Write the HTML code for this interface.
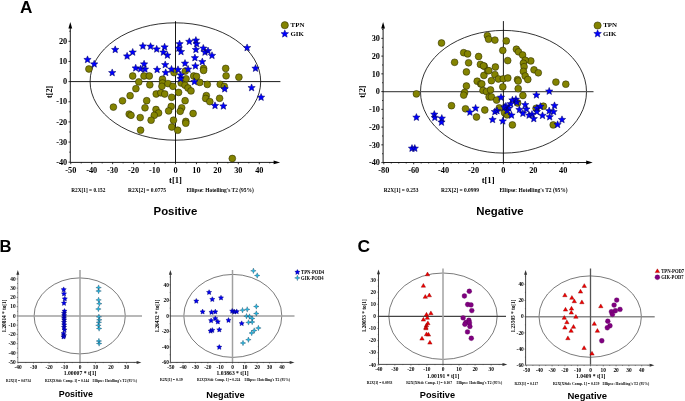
<!DOCTYPE html><html><head><meta charset="utf-8"><style>html,body{margin:0;padding:0;background:#fff;width:685px;height:401px;overflow:hidden}svg{display:block;will-change:transform}</style></head><body>
<svg width="685" height="401" viewBox="0 0 685 401">
<rect width="685" height="401" fill="#fff"/>
<text x="20" y="12.6" font-family='"Liberation Sans", sans-serif' font-size="17.2" font-weight="bold" text-anchor="start" fill="#000" >A</text>
<text x="-0.6" y="251.85" font-family='"Liberation Sans", sans-serif' font-size="16.6" font-weight="bold" text-anchor="start" fill="#000" >B</text>
<text x="357.5" y="251.9" font-family='"Liberation Sans", sans-serif' font-size="17.4" font-weight="bold" text-anchor="start" fill="#000" >C</text>
<ellipse cx="175.4" cy="81.5" rx="85.3" ry="58.7" fill="none" stroke="#000" stroke-width="0.8"/>
<line x1="70.3" y1="81.6" x2="280.4" y2="81.6" stroke="#000" stroke-width="0.9"/>
<line x1="175.5" y1="21.2" x2="175.5" y2="162.4" stroke="#000" stroke-width="0.9"/>
<line x1="70.3" y1="162.4" x2="70.3" y2="25.25" stroke="#000" stroke-width="0.9"/>
<line x1="70.3" y1="162.4" x2="276.85" y2="162.4" stroke="#000" stroke-width="0.9"/>
<path d="M70.3,22 L68.4,28.5 L72.2,28.5Z" fill="#000"/>
<path d="M280.1,162.4 L273.6,160.5 L273.6,164.3Z" fill="#000"/>
<line x1="70.75" y1="162.4" x2="70.75" y2="164.2" stroke="#000" stroke-width="0.8"/>
<text x="70.75" y="172.5" font-family='"Liberation Serif", serif' font-size="8.3" font-weight="bold" text-anchor="middle" fill="#000" >-50</text>
<line x1="91.7" y1="162.4" x2="91.7" y2="164.2" stroke="#000" stroke-width="0.8"/>
<text x="91.7" y="172.5" font-family='"Liberation Serif", serif' font-size="8.3" font-weight="bold" text-anchor="middle" fill="#000" >-40</text>
<line x1="112.65" y1="162.4" x2="112.65" y2="164.2" stroke="#000" stroke-width="0.8"/>
<text x="112.65" y="172.5" font-family='"Liberation Serif", serif' font-size="8.3" font-weight="bold" text-anchor="middle" fill="#000" >-30</text>
<line x1="133.6" y1="162.4" x2="133.6" y2="164.2" stroke="#000" stroke-width="0.8"/>
<text x="133.6" y="172.5" font-family='"Liberation Serif", serif' font-size="8.3" font-weight="bold" text-anchor="middle" fill="#000" >-20</text>
<line x1="154.55" y1="162.4" x2="154.55" y2="164.2" stroke="#000" stroke-width="0.8"/>
<text x="154.55" y="172.5" font-family='"Liberation Serif", serif' font-size="8.3" font-weight="bold" text-anchor="middle" fill="#000" >-10</text>
<line x1="175.5" y1="162.4" x2="175.5" y2="164.2" stroke="#000" stroke-width="0.8"/>
<text x="175.5" y="172.5" font-family='"Liberation Serif", serif' font-size="8.3" font-weight="bold" text-anchor="middle" fill="#000" >0</text>
<line x1="196.45" y1="162.4" x2="196.45" y2="164.2" stroke="#000" stroke-width="0.8"/>
<text x="196.45" y="172.5" font-family='"Liberation Serif", serif' font-size="8.3" font-weight="bold" text-anchor="middle" fill="#000" >10</text>
<line x1="217.4" y1="162.4" x2="217.4" y2="164.2" stroke="#000" stroke-width="0.8"/>
<text x="217.4" y="172.5" font-family='"Liberation Serif", serif' font-size="8.3" font-weight="bold" text-anchor="middle" fill="#000" >20</text>
<line x1="238.35" y1="162.4" x2="238.35" y2="164.2" stroke="#000" stroke-width="0.8"/>
<text x="238.35" y="172.5" font-family='"Liberation Serif", serif' font-size="8.3" font-weight="bold" text-anchor="middle" fill="#000" >30</text>
<line x1="259.3" y1="162.4" x2="259.3" y2="164.2" stroke="#000" stroke-width="0.8"/>
<text x="259.3" y="172.5" font-family='"Liberation Serif", serif' font-size="8.3" font-weight="bold" text-anchor="middle" fill="#000" >40</text>
<line x1="81.22" y1="162.4" x2="81.22" y2="163.4" stroke="#000" stroke-width="0.8"/>
<line x1="102.17" y1="162.4" x2="102.17" y2="163.4" stroke="#000" stroke-width="0.8"/>
<line x1="123.12" y1="162.4" x2="123.12" y2="163.4" stroke="#000" stroke-width="0.8"/>
<line x1="144.07" y1="162.4" x2="144.07" y2="163.4" stroke="#000" stroke-width="0.8"/>
<line x1="165.03" y1="162.4" x2="165.03" y2="163.4" stroke="#000" stroke-width="0.8"/>
<line x1="185.97" y1="162.4" x2="185.97" y2="163.4" stroke="#000" stroke-width="0.8"/>
<line x1="206.93" y1="162.4" x2="206.93" y2="163.4" stroke="#000" stroke-width="0.8"/>
<line x1="227.88" y1="162.4" x2="227.88" y2="163.4" stroke="#000" stroke-width="0.8"/>
<line x1="248.82" y1="162.4" x2="248.82" y2="163.4" stroke="#000" stroke-width="0.8"/>
<line x1="269.77" y1="162.4" x2="269.77" y2="163.4" stroke="#000" stroke-width="0.8"/>
<line x1="68.5" y1="162.2" x2="70.3" y2="162.2" stroke="#000" stroke-width="0.8"/>
<text x="67.2" y="164.94" font-family='"Liberation Serif", serif' font-size="8.3" font-weight="bold" text-anchor="end" fill="#000" >-40</text>
<line x1="68.5" y1="142.05" x2="70.3" y2="142.05" stroke="#000" stroke-width="0.8"/>
<text x="67.2" y="144.79" font-family='"Liberation Serif", serif' font-size="8.3" font-weight="bold" text-anchor="end" fill="#000" >-30</text>
<line x1="68.5" y1="121.9" x2="70.3" y2="121.9" stroke="#000" stroke-width="0.8"/>
<text x="67.2" y="124.64" font-family='"Liberation Serif", serif' font-size="8.3" font-weight="bold" text-anchor="end" fill="#000" >-20</text>
<line x1="68.5" y1="101.75" x2="70.3" y2="101.75" stroke="#000" stroke-width="0.8"/>
<text x="67.2" y="104.49" font-family='"Liberation Serif", serif' font-size="8.3" font-weight="bold" text-anchor="end" fill="#000" >-10</text>
<line x1="68.5" y1="81.6" x2="70.3" y2="81.6" stroke="#000" stroke-width="0.8"/>
<text x="67.2" y="84.34" font-family='"Liberation Serif", serif' font-size="8.3" font-weight="bold" text-anchor="end" fill="#000" >0</text>
<line x1="68.5" y1="61.45" x2="70.3" y2="61.45" stroke="#000" stroke-width="0.8"/>
<text x="67.2" y="64.19" font-family='"Liberation Serif", serif' font-size="8.3" font-weight="bold" text-anchor="end" fill="#000" >10</text>
<line x1="68.5" y1="41.3" x2="70.3" y2="41.3" stroke="#000" stroke-width="0.8"/>
<text x="67.2" y="44.04" font-family='"Liberation Serif", serif' font-size="8.3" font-weight="bold" text-anchor="end" fill="#000" >20</text>
<line x1="69.3" y1="152.12" x2="70.3" y2="152.12" stroke="#000" stroke-width="0.8"/>
<line x1="69.3" y1="131.97" x2="70.3" y2="131.97" stroke="#000" stroke-width="0.8"/>
<line x1="69.3" y1="111.82" x2="70.3" y2="111.82" stroke="#000" stroke-width="0.8"/>
<line x1="69.3" y1="91.67" x2="70.3" y2="91.67" stroke="#000" stroke-width="0.8"/>
<line x1="69.3" y1="71.52" x2="70.3" y2="71.52" stroke="#000" stroke-width="0.8"/>
<line x1="69.3" y1="51.37" x2="70.3" y2="51.37" stroke="#000" stroke-width="0.8"/>
<line x1="69.3" y1="31.22" x2="70.3" y2="31.22" stroke="#000" stroke-width="0.8"/>
<circle cx="88.9" cy="69" r="3.4" fill="#838300" stroke="#2a2a00" stroke-width="0.55"/>
<circle cx="132.7" cy="76" r="3.4" fill="#838300" stroke="#2a2a00" stroke-width="0.55"/>
<circle cx="144" cy="76" r="3.4" fill="#838300" stroke="#2a2a00" stroke-width="0.55"/>
<circle cx="149.3" cy="76" r="3.4" fill="#838300" stroke="#2a2a00" stroke-width="0.55"/>
<circle cx="138.8" cy="81.9" r="3.4" fill="#838300" stroke="#2a2a00" stroke-width="0.55"/>
<circle cx="149.8" cy="84.8" r="3.4" fill="#838300" stroke="#2a2a00" stroke-width="0.55"/>
<circle cx="162.5" cy="79.2" r="3.4" fill="#838300" stroke="#2a2a00" stroke-width="0.55"/>
<circle cx="162.5" cy="83" r="3.4" fill="#838300" stroke="#2a2a00" stroke-width="0.55"/>
<circle cx="161.9" cy="86.3" r="3.4" fill="#838300" stroke="#2a2a00" stroke-width="0.55"/>
<circle cx="168" cy="83.6" r="3.4" fill="#838300" stroke="#2a2a00" stroke-width="0.55"/>
<circle cx="172.9" cy="86.3" r="3.4" fill="#838300" stroke="#2a2a00" stroke-width="0.55"/>
<circle cx="174" cy="72.6" r="3.4" fill="#838300" stroke="#2a2a00" stroke-width="0.55"/>
<circle cx="203.6" cy="68.5" r="3.4" fill="#838300" stroke="#2a2a00" stroke-width="0.55"/>
<circle cx="203.6" cy="70.4" r="3.4" fill="#838300" stroke="#2a2a00" stroke-width="0.55"/>
<circle cx="225.7" cy="68.4" r="3.4" fill="#838300" stroke="#2a2a00" stroke-width="0.55"/>
<circle cx="226.1" cy="75.8" r="3.4" fill="#838300" stroke="#2a2a00" stroke-width="0.55"/>
<circle cx="238.9" cy="77.2" r="3.4" fill="#838300" stroke="#2a2a00" stroke-width="0.55"/>
<circle cx="193.7" cy="76" r="3.4" fill="#838300" stroke="#2a2a00" stroke-width="0.55"/>
<circle cx="196.5" cy="76.5" r="3.4" fill="#838300" stroke="#2a2a00" stroke-width="0.55"/>
<circle cx="185.3" cy="71.1" r="3.4" fill="#838300" stroke="#2a2a00" stroke-width="0.55"/>
<circle cx="186.1" cy="78.8" r="3.4" fill="#838300" stroke="#2a2a00" stroke-width="0.55"/>
<circle cx="199.8" cy="82.4" r="3.4" fill="#838300" stroke="#2a2a00" stroke-width="0.55"/>
<circle cx="207.3" cy="84.4" r="3.4" fill="#838300" stroke="#2a2a00" stroke-width="0.55"/>
<circle cx="220.2" cy="84.3" r="3.4" fill="#838300" stroke="#2a2a00" stroke-width="0.55"/>
<circle cx="224.3" cy="86.4" r="3.4" fill="#838300" stroke="#2a2a00" stroke-width="0.55"/>
<circle cx="181.2" cy="83" r="3.4" fill="#838300" stroke="#2a2a00" stroke-width="0.55"/>
<circle cx="185" cy="85.2" r="3.4" fill="#838300" stroke="#2a2a00" stroke-width="0.55"/>
<circle cx="188" cy="88" r="3.4" fill="#838300" stroke="#2a2a00" stroke-width="0.55"/>
<circle cx="191" cy="90.9" r="3.4" fill="#838300" stroke="#2a2a00" stroke-width="0.55"/>
<circle cx="135.9" cy="88.7" r="3.4" fill="#838300" stroke="#2a2a00" stroke-width="0.55"/>
<circle cx="130.1" cy="95.7" r="3.4" fill="#838300" stroke="#2a2a00" stroke-width="0.55"/>
<circle cx="122.5" cy="100.8" r="3.4" fill="#838300" stroke="#2a2a00" stroke-width="0.55"/>
<circle cx="113.4" cy="107.1" r="3.4" fill="#838300" stroke="#2a2a00" stroke-width="0.55"/>
<circle cx="146.7" cy="100.7" r="3.4" fill="#838300" stroke="#2a2a00" stroke-width="0.55"/>
<circle cx="145" cy="107.8" r="3.4" fill="#838300" stroke="#2a2a00" stroke-width="0.55"/>
<circle cx="156" cy="109.5" r="3.4" fill="#838300" stroke="#2a2a00" stroke-width="0.55"/>
<circle cx="158.6" cy="113" r="3.4" fill="#838300" stroke="#2a2a00" stroke-width="0.55"/>
<circle cx="154.3" cy="115.3" r="3.4" fill="#838300" stroke="#2a2a00" stroke-width="0.55"/>
<circle cx="129.2" cy="114.1" r="3.4" fill="#838300" stroke="#2a2a00" stroke-width="0.55"/>
<circle cx="131" cy="115.3" r="3.4" fill="#838300" stroke="#2a2a00" stroke-width="0.55"/>
<circle cx="140.2" cy="117.6" r="3.4" fill="#838300" stroke="#2a2a00" stroke-width="0.55"/>
<circle cx="151.1" cy="120.2" r="3.4" fill="#838300" stroke="#2a2a00" stroke-width="0.55"/>
<circle cx="140.6" cy="130.2" r="3.4" fill="#838300" stroke="#2a2a00" stroke-width="0.55"/>
<circle cx="156.2" cy="94" r="3.4" fill="#838300" stroke="#2a2a00" stroke-width="0.55"/>
<circle cx="160.8" cy="92.8" r="3.4" fill="#838300" stroke="#2a2a00" stroke-width="0.55"/>
<circle cx="164.7" cy="94" r="3.4" fill="#838300" stroke="#2a2a00" stroke-width="0.55"/>
<circle cx="171.7" cy="97.3" r="3.4" fill="#838300" stroke="#2a2a00" stroke-width="0.55"/>
<circle cx="171.2" cy="106.5" r="3.4" fill="#838300" stroke="#2a2a00" stroke-width="0.55"/>
<circle cx="168.6" cy="110.9" r="3.4" fill="#838300" stroke="#2a2a00" stroke-width="0.55"/>
<circle cx="173.5" cy="120.2" r="3.4" fill="#838300" stroke="#2a2a00" stroke-width="0.55"/>
<circle cx="171.8" cy="127" r="3.4" fill="#838300" stroke="#2a2a00" stroke-width="0.55"/>
<circle cx="177.7" cy="130.2" r="3.4" fill="#838300" stroke="#2a2a00" stroke-width="0.55"/>
<circle cx="178.6" cy="92.4" r="3.4" fill="#838300" stroke="#2a2a00" stroke-width="0.55"/>
<circle cx="185.1" cy="100.7" r="3.4" fill="#838300" stroke="#2a2a00" stroke-width="0.55"/>
<circle cx="206.3" cy="95.6" r="3.4" fill="#838300" stroke="#2a2a00" stroke-width="0.55"/>
<circle cx="205.7" cy="98.5" r="3.4" fill="#838300" stroke="#2a2a00" stroke-width="0.55"/>
<circle cx="209.8" cy="101.6" r="3.4" fill="#838300" stroke="#2a2a00" stroke-width="0.55"/>
<circle cx="219.6" cy="98.3" r="3.4" fill="#838300" stroke="#2a2a00" stroke-width="0.55"/>
<circle cx="181.7" cy="107.8" r="3.4" fill="#838300" stroke="#2a2a00" stroke-width="0.55"/>
<circle cx="180.2" cy="111.3" r="3.4" fill="#838300" stroke="#2a2a00" stroke-width="0.55"/>
<circle cx="193.1" cy="113.5" r="3.4" fill="#838300" stroke="#2a2a00" stroke-width="0.55"/>
<circle cx="185.8" cy="121.4" r="3.4" fill="#838300" stroke="#2a2a00" stroke-width="0.55"/>
<circle cx="185.8" cy="123.2" r="3.4" fill="#838300" stroke="#2a2a00" stroke-width="0.55"/>
<circle cx="232.3" cy="158.5" r="3.4" fill="#838300" stroke="#2a2a00" stroke-width="0.55"/>
<path d="M87.5,55.85 L88.52,58.3 L91.16,58.51 L89.15,60.24 L89.76,62.81 L87.5,61.43 L85.24,62.81 L85.85,60.24 L83.84,58.51 L86.48,58.3Z M94.2,60.25 L95.22,62.7 L97.86,62.91 L95.85,64.64 L96.46,67.21 L94.2,65.83 L91.94,67.21 L92.55,64.64 L90.54,62.91 L93.18,62.7Z M115.2,45.85 L116.22,48.3 L118.86,48.51 L116.85,50.24 L117.46,52.81 L115.2,51.43 L112.94,52.81 L113.55,50.24 L111.54,48.51 L114.18,48.3Z M112.2,68.95 L113.22,71.4 L115.86,71.61 L113.85,73.34 L114.46,75.91 L112.2,74.53 L109.94,75.91 L110.55,73.34 L108.54,71.61 L111.18,71.4Z M127.1,52.35 L128.12,54.8 L130.76,55.01 L128.75,56.74 L129.36,59.31 L127.1,57.93 L124.84,59.31 L125.45,56.74 L123.44,55.01 L126.08,54.8Z M132.7,48.45 L133.72,50.9 L136.36,51.11 L134.35,52.84 L134.96,55.41 L132.7,54.03 L130.44,55.41 L131.05,52.84 L129.04,51.11 L131.68,50.9Z M142.9,42.35 L143.92,44.8 L146.56,45.01 L144.55,46.74 L145.16,49.31 L142.9,47.93 L140.64,49.31 L141.25,46.74 L139.24,45.01 L141.88,44.8Z M150.6,42.65 L151.62,45.1 L154.26,45.31 L152.25,47.04 L152.86,49.61 L150.6,48.23 L148.34,49.61 L148.95,47.04 L146.94,45.31 L149.58,45.1Z M156.7,45.35 L157.72,47.8 L160.36,48.01 L158.35,49.74 L158.96,52.31 L156.7,50.93 L154.44,52.31 L155.05,49.74 L153.04,48.01 L155.68,47.8Z M164.6,43.25 L165.62,45.7 L168.26,45.91 L166.25,47.64 L166.86,50.21 L164.6,48.83 L162.34,50.21 L162.95,47.64 L160.94,45.91 L163.58,45.7Z M163.4,48.45 L164.42,50.9 L167.06,51.11 L165.05,52.84 L165.66,55.41 L163.4,54.03 L161.14,55.41 L161.75,52.84 L159.74,51.11 L162.38,50.9Z M167.4,51.45 L168.42,53.9 L171.06,54.11 L169.05,55.84 L169.66,58.41 L167.4,57.03 L165.14,58.41 L165.75,55.84 L163.74,54.11 L166.38,53.9Z M144.1,60.25 L145.12,62.7 L147.76,62.91 L145.75,64.64 L146.36,67.21 L144.1,65.83 L141.84,67.21 L142.45,64.64 L140.44,62.91 L143.08,62.7Z M135.7,64.25 L136.72,66.7 L139.36,66.91 L137.35,68.64 L137.96,71.21 L135.7,69.83 L133.44,71.21 L134.05,68.64 L132.04,66.91 L134.68,66.7Z M140.6,65.15 L141.62,67.6 L144.26,67.81 L142.25,69.54 L142.86,72.11 L140.6,70.73 L138.34,72.11 L138.95,69.54 L136.94,67.81 L139.58,67.6Z M145,65.45 L146.02,67.9 L148.66,68.11 L146.65,69.84 L147.26,72.41 L145,71.03 L142.74,72.41 L143.35,69.84 L141.34,68.11 L143.98,67.9Z M157.1,65.85 L158.12,68.3 L160.76,68.51 L158.75,70.24 L159.36,72.81 L157.1,71.43 L154.84,72.81 L155.45,70.24 L153.44,68.51 L156.08,68.3Z M165.2,60.95 L166.22,63.4 L168.86,63.61 L166.85,65.34 L167.46,67.91 L165.2,66.53 L162.94,67.91 L163.55,65.34 L161.54,63.61 L164.18,63.4Z M165.7,68.85 L166.72,71.3 L169.36,71.51 L167.35,73.24 L167.96,75.81 L165.7,74.43 L163.44,75.81 L164.05,73.24 L162.04,71.51 L164.68,71.3Z M171.5,65.45 L172.52,67.9 L175.16,68.11 L173.15,69.84 L173.76,72.41 L171.5,71.03 L169.24,72.41 L169.85,69.84 L167.84,68.11 L170.48,67.9Z M179.6,40.05 L180.62,42.5 L183.26,42.71 L181.25,44.44 L181.86,47.01 L179.6,45.63 L177.34,47.01 L177.95,44.44 L175.94,42.71 L178.58,42.5Z M178.8,44.45 L179.82,46.9 L182.46,47.11 L180.45,48.84 L181.06,51.41 L178.8,50.03 L176.54,51.41 L177.15,48.84 L175.14,47.11 L177.78,46.9Z M181,47.95 L182.02,50.4 L184.66,50.61 L182.65,52.34 L183.26,54.91 L181,53.53 L178.74,54.91 L179.35,52.34 L177.34,50.61 L179.98,50.4Z M189.3,37.75 L190.32,40.2 L192.96,40.41 L190.95,42.14 L191.56,44.71 L189.3,43.33 L187.04,44.71 L187.65,42.14 L185.64,40.41 L188.28,40.2Z M195.9,36.55 L196.92,39 L199.56,39.21 L197.55,40.94 L198.16,43.51 L195.9,42.13 L193.64,43.51 L194.25,40.94 L192.24,39.21 L194.88,39Z M196.6,40.05 L197.62,42.5 L200.26,42.71 L198.25,44.44 L198.86,47.01 L196.6,45.63 L194.34,47.01 L194.95,44.44 L192.94,42.71 L195.58,42.5Z M195.9,45.85 L196.92,48.3 L199.56,48.51 L197.55,50.24 L198.16,52.81 L195.9,51.43 L193.64,52.81 L194.25,50.24 L192.24,48.51 L194.88,48.3Z M203.3,44.45 L204.32,46.9 L206.96,47.11 L204.95,48.84 L205.56,51.41 L203.3,50.03 L201.04,51.41 L201.65,48.84 L199.64,47.11 L202.28,46.9Z M205,48.45 L206.02,50.9 L208.66,51.11 L206.65,52.84 L207.26,55.41 L205,54.03 L202.74,55.41 L203.35,52.84 L201.34,51.11 L203.98,50.9Z M208,47.05 L209.02,49.5 L211.66,49.71 L209.65,51.44 L210.26,54.01 L208,52.63 L205.74,54.01 L206.35,51.44 L204.34,49.71 L206.98,49.5Z M212,51.75 L213.02,54.2 L215.66,54.41 L213.65,56.14 L214.26,58.71 L212,57.33 L209.74,58.71 L210.35,56.14 L208.34,54.41 L210.98,54.2Z M194.9,54.05 L195.92,56.5 L198.56,56.71 L196.55,58.44 L197.16,61.01 L194.9,59.63 L192.64,61.01 L193.25,58.44 L191.24,56.71 L193.88,56.5Z M202.3,57.95 L203.32,60.4 L205.96,60.61 L203.95,62.34 L204.56,64.91 L202.3,63.53 L200.04,64.91 L200.65,62.34 L198.64,60.61 L201.28,60.4Z M185,59.55 L186.02,62 L188.66,62.21 L186.65,63.94 L187.26,66.51 L185,65.13 L182.74,66.51 L183.35,63.94 L181.34,62.21 L183.98,62Z M195.4,62.25 L196.42,64.7 L199.06,64.91 L197.05,66.64 L197.66,69.21 L195.4,67.83 L193.14,69.21 L193.75,66.64 L191.74,64.91 L194.38,64.7Z M188.1,65.45 L189.12,67.9 L191.76,68.11 L189.75,69.84 L190.36,72.41 L188.1,71.03 L185.84,72.41 L186.45,69.84 L184.44,68.11 L187.08,67.9Z M178,65.85 L179.02,68.3 L181.66,68.51 L179.65,70.24 L180.26,72.81 L178,71.43 L175.74,72.81 L176.35,70.24 L174.34,68.51 L176.98,68.3Z M180.8,71.25 L181.82,73.7 L184.46,73.91 L182.45,75.64 L183.06,78.21 L180.8,76.83 L178.54,78.21 L179.15,75.64 L177.14,73.91 L179.78,73.7Z M180.6,74.95 L181.62,77.4 L184.26,77.61 L182.25,79.34 L182.86,81.91 L180.6,80.53 L178.34,81.91 L178.95,79.34 L176.94,77.61 L179.58,77.4Z M194.4,77.95 L195.42,80.4 L198.06,80.61 L196.05,82.34 L196.66,84.91 L194.4,83.53 L192.14,84.91 L192.75,82.34 L190.74,80.61 L193.38,80.4Z M247.1,43.95 L248.12,46.4 L250.76,46.61 L248.75,48.34 L249.36,50.91 L247.1,49.53 L244.84,50.91 L245.45,48.34 L243.44,46.61 L246.08,46.4Z M255.5,64.55 L256.52,67 L259.16,67.21 L257.15,68.94 L257.76,71.51 L255.5,70.13 L253.24,71.51 L253.85,68.94 L251.84,67.21 L254.48,67Z M224.7,85.15 L225.72,87.6 L228.36,87.81 L226.35,89.54 L226.96,92.11 L224.7,90.73 L222.44,92.11 L223.05,89.54 L221.04,87.81 L223.68,87.6Z M251.6,83.95 L252.62,86.4 L255.26,86.61 L253.25,88.34 L253.86,90.91 L251.6,89.53 L249.34,90.91 L249.95,88.34 L247.94,86.61 L250.58,86.4Z M261.1,93.55 L262.12,96 L264.76,96.21 L262.75,97.94 L263.36,100.51 L261.1,99.13 L258.84,100.51 L259.45,97.94 L257.44,96.21 L260.08,96Z M215,101.85 L216.02,104.3 L218.66,104.51 L216.65,106.24 L217.26,108.81 L215,107.43 L212.74,108.81 L213.35,106.24 L211.34,104.51 L213.98,104.3Z M223.4,102.35 L224.42,104.8 L227.06,105.01 L225.05,106.74 L225.66,109.31 L223.4,107.93 L221.14,109.31 L221.75,106.74 L219.74,105.01 L222.38,104.8Z" fill="#0000ff" stroke="#000060" stroke-width="0.5" stroke-linejoin="miter"/>
<text x="49.6" y="91.8" font-family='"Liberation Serif", serif' font-size="8.2" font-weight="bold" text-anchor="middle" fill="#000" transform="rotate(-90 49.6 91.8)" dominant-baseline="central">t[2]</text>
<text x="175.5" y="182.7" font-family='"Liberation Serif", serif' font-size="8.6" font-weight="bold" text-anchor="middle" fill="#000" >t[1]</text>
<text x="71.2" y="191.6" font-family='"Liberation Serif", serif' font-size="5.6" font-weight="bold" text-anchor="start" fill="#000" textLength="34.2" lengthAdjust="spacingAndGlyphs">R2X[1] = 0.152</text>
<text x="128" y="191.6" font-family='"Liberation Serif", serif' font-size="5.6" font-weight="bold" text-anchor="start" fill="#000" textLength="37.9" lengthAdjust="spacingAndGlyphs">R2X[2] = 0.0775</text>
<text x="186.4" y="191.6" font-family='"Liberation Serif", serif' font-size="5.6" font-weight="bold" text-anchor="start" fill="#000" textLength="67.4" lengthAdjust="spacingAndGlyphs">Ellipse: Hotelling&#39;s T2 (95%)</text>
<circle cx="284.8" cy="25.2" r="3.6" fill="#838300" stroke="#2a2a00" stroke-width="0.55"/>
<path d="M284.8,29.9 L285.86,32.44 L288.6,32.66 L286.51,34.46 L287.15,37.14 L284.8,35.7 L282.45,37.14 L283.09,34.46 L281,32.66 L283.74,32.44Z" fill="#0000ff" stroke="#00007a" stroke-width="0.45" stroke-linejoin="miter"/>
<text x="290.6" y="27.1" font-family='"Liberation Serif", serif' font-size="6.9" font-weight="bold" text-anchor="start" fill="#000" >TPN</text>
<text x="290.4" y="35.7" font-family='"Liberation Serif", serif' font-size="6.9" font-weight="bold" text-anchor="start" fill="#000" >GIK</text>
<text x="175.4" y="215" font-family='"Liberation Sans", sans-serif' font-size="11.4" font-weight="bold" text-anchor="middle" fill="#000" >Positive</text>
<ellipse cx="503.5" cy="91.75" rx="83" ry="61.35" fill="none" stroke="#000" stroke-width="0.8"/>
<line x1="383.1" y1="91.6" x2="593.5" y2="91.6" stroke="#555" stroke-width="1.3"/>
<line x1="503.4" y1="21.1" x2="503.4" y2="162.5" stroke="#000" stroke-width="0.9"/>
<line x1="383.1" y1="162.5" x2="383.1" y2="25.25" stroke="#000" stroke-width="0.9"/>
<line x1="383.1" y1="162.5" x2="589.45" y2="162.5" stroke="#000" stroke-width="0.9"/>
<path d="M383.1,22 L381.2,28.5 L385,28.5Z" fill="#000"/>
<path d="M592.7,162.5 L586.2,160.6 L586.2,164.4Z" fill="#000"/>
<line x1="383.8" y1="162.5" x2="383.8" y2="164.3" stroke="#000" stroke-width="0.8"/>
<text x="383.8" y="172.6" font-family='"Liberation Serif", serif' font-size="8.3" font-weight="bold" text-anchor="middle" fill="#000" >-80</text>
<line x1="413.7" y1="162.5" x2="413.7" y2="164.3" stroke="#000" stroke-width="0.8"/>
<text x="413.7" y="172.6" font-family='"Liberation Serif", serif' font-size="8.3" font-weight="bold" text-anchor="middle" fill="#000" >-60</text>
<line x1="443.6" y1="162.5" x2="443.6" y2="164.3" stroke="#000" stroke-width="0.8"/>
<text x="443.6" y="172.6" font-family='"Liberation Serif", serif' font-size="8.3" font-weight="bold" text-anchor="middle" fill="#000" >-40</text>
<line x1="473.5" y1="162.5" x2="473.5" y2="164.3" stroke="#000" stroke-width="0.8"/>
<text x="473.5" y="172.6" font-family='"Liberation Serif", serif' font-size="8.3" font-weight="bold" text-anchor="middle" fill="#000" >-20</text>
<line x1="503.4" y1="162.5" x2="503.4" y2="164.3" stroke="#000" stroke-width="0.8"/>
<text x="503.4" y="172.6" font-family='"Liberation Serif", serif' font-size="8.3" font-weight="bold" text-anchor="middle" fill="#000" >0</text>
<line x1="533.3" y1="162.5" x2="533.3" y2="164.3" stroke="#000" stroke-width="0.8"/>
<text x="533.3" y="172.6" font-family='"Liberation Serif", serif' font-size="8.3" font-weight="bold" text-anchor="middle" fill="#000" >20</text>
<line x1="563.2" y1="162.5" x2="563.2" y2="164.3" stroke="#000" stroke-width="0.8"/>
<text x="563.2" y="172.6" font-family='"Liberation Serif", serif' font-size="8.3" font-weight="bold" text-anchor="middle" fill="#000" >40</text>
<line x1="391.27" y1="162.5" x2="391.27" y2="163.5" stroke="#000" stroke-width="0.8"/>
<line x1="398.75" y1="162.5" x2="398.75" y2="163.5" stroke="#000" stroke-width="0.8"/>
<line x1="406.22" y1="162.5" x2="406.22" y2="163.5" stroke="#000" stroke-width="0.8"/>
<line x1="421.17" y1="162.5" x2="421.17" y2="163.5" stroke="#000" stroke-width="0.8"/>
<line x1="428.65" y1="162.5" x2="428.65" y2="163.5" stroke="#000" stroke-width="0.8"/>
<line x1="436.12" y1="162.5" x2="436.12" y2="163.5" stroke="#000" stroke-width="0.8"/>
<line x1="451.07" y1="162.5" x2="451.07" y2="163.5" stroke="#000" stroke-width="0.8"/>
<line x1="458.55" y1="162.5" x2="458.55" y2="163.5" stroke="#000" stroke-width="0.8"/>
<line x1="466.02" y1="162.5" x2="466.02" y2="163.5" stroke="#000" stroke-width="0.8"/>
<line x1="480.97" y1="162.5" x2="480.97" y2="163.5" stroke="#000" stroke-width="0.8"/>
<line x1="488.45" y1="162.5" x2="488.45" y2="163.5" stroke="#000" stroke-width="0.8"/>
<line x1="495.92" y1="162.5" x2="495.92" y2="163.5" stroke="#000" stroke-width="0.8"/>
<line x1="510.88" y1="162.5" x2="510.88" y2="163.5" stroke="#000" stroke-width="0.8"/>
<line x1="518.35" y1="162.5" x2="518.35" y2="163.5" stroke="#000" stroke-width="0.8"/>
<line x1="525.82" y1="162.5" x2="525.82" y2="163.5" stroke="#000" stroke-width="0.8"/>
<line x1="540.77" y1="162.5" x2="540.77" y2="163.5" stroke="#000" stroke-width="0.8"/>
<line x1="548.25" y1="162.5" x2="548.25" y2="163.5" stroke="#000" stroke-width="0.8"/>
<line x1="555.73" y1="162.5" x2="555.73" y2="163.5" stroke="#000" stroke-width="0.8"/>
<line x1="570.67" y1="162.5" x2="570.67" y2="163.5" stroke="#000" stroke-width="0.8"/>
<line x1="578.15" y1="162.5" x2="578.15" y2="163.5" stroke="#000" stroke-width="0.8"/>
<line x1="381.3" y1="162.6" x2="383.1" y2="162.6" stroke="#000" stroke-width="0.8"/>
<text x="380" y="165.34" font-family='"Liberation Serif", serif' font-size="8.3" font-weight="bold" text-anchor="end" fill="#000" >-40</text>
<line x1="381.3" y1="144.85" x2="383.1" y2="144.85" stroke="#000" stroke-width="0.8"/>
<text x="380" y="147.59" font-family='"Liberation Serif", serif' font-size="8.3" font-weight="bold" text-anchor="end" fill="#000" >-30</text>
<line x1="381.3" y1="127.1" x2="383.1" y2="127.1" stroke="#000" stroke-width="0.8"/>
<text x="380" y="129.84" font-family='"Liberation Serif", serif' font-size="8.3" font-weight="bold" text-anchor="end" fill="#000" >-20</text>
<line x1="381.3" y1="109.35" x2="383.1" y2="109.35" stroke="#000" stroke-width="0.8"/>
<text x="380" y="112.09" font-family='"Liberation Serif", serif' font-size="8.3" font-weight="bold" text-anchor="end" fill="#000" >-10</text>
<line x1="381.3" y1="91.6" x2="383.1" y2="91.6" stroke="#000" stroke-width="0.8"/>
<text x="380" y="94.34" font-family='"Liberation Serif", serif' font-size="8.3" font-weight="bold" text-anchor="end" fill="#000" >0</text>
<line x1="381.3" y1="73.85" x2="383.1" y2="73.85" stroke="#000" stroke-width="0.8"/>
<text x="380" y="76.59" font-family='"Liberation Serif", serif' font-size="8.3" font-weight="bold" text-anchor="end" fill="#000" >10</text>
<line x1="381.3" y1="56.1" x2="383.1" y2="56.1" stroke="#000" stroke-width="0.8"/>
<text x="380" y="58.84" font-family='"Liberation Serif", serif' font-size="8.3" font-weight="bold" text-anchor="end" fill="#000" >20</text>
<line x1="381.3" y1="38.35" x2="383.1" y2="38.35" stroke="#000" stroke-width="0.8"/>
<text x="380" y="41.09" font-family='"Liberation Serif", serif' font-size="8.3" font-weight="bold" text-anchor="end" fill="#000" >30</text>
<line x1="382.1" y1="153.72" x2="383.1" y2="153.72" stroke="#000" stroke-width="0.8"/>
<line x1="382.1" y1="135.97" x2="383.1" y2="135.97" stroke="#000" stroke-width="0.8"/>
<line x1="382.1" y1="118.22" x2="383.1" y2="118.22" stroke="#000" stroke-width="0.8"/>
<line x1="382.1" y1="100.47" x2="383.1" y2="100.47" stroke="#000" stroke-width="0.8"/>
<line x1="382.1" y1="82.72" x2="383.1" y2="82.72" stroke="#000" stroke-width="0.8"/>
<line x1="382.1" y1="64.97" x2="383.1" y2="64.97" stroke="#000" stroke-width="0.8"/>
<line x1="382.1" y1="47.22" x2="383.1" y2="47.22" stroke="#000" stroke-width="0.8"/>
<line x1="382.1" y1="29.47" x2="383.1" y2="29.47" stroke="#000" stroke-width="0.8"/>
<circle cx="441.5" cy="43" r="3.4" fill="#838300" stroke="#2a2a00" stroke-width="0.55"/>
<circle cx="463.7" cy="52.7" r="3.4" fill="#838300" stroke="#2a2a00" stroke-width="0.55"/>
<circle cx="467.6" cy="53.9" r="3.4" fill="#838300" stroke="#2a2a00" stroke-width="0.55"/>
<circle cx="478.6" cy="56.5" r="3.4" fill="#838300" stroke="#2a2a00" stroke-width="0.55"/>
<circle cx="454.6" cy="62.3" r="3.4" fill="#838300" stroke="#2a2a00" stroke-width="0.55"/>
<circle cx="468.6" cy="62.8" r="3.4" fill="#838300" stroke="#2a2a00" stroke-width="0.55"/>
<circle cx="480.4" cy="64.4" r="3.4" fill="#838300" stroke="#2a2a00" stroke-width="0.55"/>
<circle cx="484.2" cy="66.2" r="3.4" fill="#838300" stroke="#2a2a00" stroke-width="0.55"/>
<circle cx="466.4" cy="71.9" r="3.4" fill="#838300" stroke="#2a2a00" stroke-width="0.55"/>
<circle cx="483.9" cy="75.4" r="3.4" fill="#838300" stroke="#2a2a00" stroke-width="0.55"/>
<circle cx="487.7" cy="70.7" r="3.4" fill="#838300" stroke="#2a2a00" stroke-width="0.55"/>
<circle cx="487.4" cy="35.7" r="3.4" fill="#838300" stroke="#2a2a00" stroke-width="0.55"/>
<circle cx="488.6" cy="39.2" r="3.4" fill="#838300" stroke="#2a2a00" stroke-width="0.55"/>
<circle cx="477.2" cy="81.2" r="3.4" fill="#838300" stroke="#2a2a00" stroke-width="0.55"/>
<circle cx="480.7" cy="83.9" r="3.4" fill="#838300" stroke="#2a2a00" stroke-width="0.55"/>
<circle cx="466.4" cy="86" r="3.4" fill="#838300" stroke="#2a2a00" stroke-width="0.55"/>
<circle cx="494.9" cy="40.1" r="3.4" fill="#838300" stroke="#2a2a00" stroke-width="0.55"/>
<circle cx="506.3" cy="40.9" r="3.4" fill="#838300" stroke="#2a2a00" stroke-width="0.55"/>
<circle cx="502.8" cy="50.4" r="3.4" fill="#838300" stroke="#2a2a00" stroke-width="0.55"/>
<circle cx="516.4" cy="49.2" r="3.4" fill="#838300" stroke="#2a2a00" stroke-width="0.55"/>
<circle cx="518.5" cy="51.8" r="3.4" fill="#838300" stroke="#2a2a00" stroke-width="0.55"/>
<circle cx="522.6" cy="55" r="3.4" fill="#838300" stroke="#2a2a00" stroke-width="0.55"/>
<circle cx="507.7" cy="60.6" r="3.4" fill="#838300" stroke="#2a2a00" stroke-width="0.55"/>
<circle cx="530.8" cy="60.9" r="3.4" fill="#838300" stroke="#2a2a00" stroke-width="0.55"/>
<circle cx="525.2" cy="60.2" r="3.4" fill="#838300" stroke="#2a2a00" stroke-width="0.55"/>
<circle cx="523.4" cy="63.2" r="3.4" fill="#838300" stroke="#2a2a00" stroke-width="0.55"/>
<circle cx="524.1" cy="66.7" r="3.4" fill="#838300" stroke="#2a2a00" stroke-width="0.55"/>
<circle cx="523.4" cy="71.4" r="3.4" fill="#838300" stroke="#2a2a00" stroke-width="0.55"/>
<circle cx="525.2" cy="76" r="3.4" fill="#838300" stroke="#2a2a00" stroke-width="0.55"/>
<circle cx="527.8" cy="79.5" r="3.4" fill="#838300" stroke="#2a2a00" stroke-width="0.55"/>
<circle cx="534" cy="69.8" r="3.4" fill="#838300" stroke="#2a2a00" stroke-width="0.55"/>
<circle cx="538.3" cy="72.8" r="3.4" fill="#838300" stroke="#2a2a00" stroke-width="0.55"/>
<circle cx="483.5" cy="65.8" r="3.4" fill="#838300" stroke="#2a2a00" stroke-width="0.55"/>
<circle cx="488.8" cy="70.7" r="3.4" fill="#838300" stroke="#2a2a00" stroke-width="0.55"/>
<circle cx="495.4" cy="67" r="3.4" fill="#838300" stroke="#2a2a00" stroke-width="0.55"/>
<circle cx="494.9" cy="74.6" r="3.4" fill="#838300" stroke="#2a2a00" stroke-width="0.55"/>
<circle cx="491.4" cy="80.7" r="3.4" fill="#838300" stroke="#2a2a00" stroke-width="0.55"/>
<circle cx="498.4" cy="79" r="3.4" fill="#838300" stroke="#2a2a00" stroke-width="0.55"/>
<circle cx="503.3" cy="78.8" r="3.4" fill="#838300" stroke="#2a2a00" stroke-width="0.55"/>
<circle cx="507.8" cy="78" r="3.4" fill="#838300" stroke="#2a2a00" stroke-width="0.55"/>
<circle cx="517.5" cy="79.6" r="3.4" fill="#838300" stroke="#2a2a00" stroke-width="0.55"/>
<circle cx="518.2" cy="81" r="3.4" fill="#838300" stroke="#2a2a00" stroke-width="0.55"/>
<circle cx="555.9" cy="82.1" r="3.4" fill="#838300" stroke="#2a2a00" stroke-width="0.55"/>
<circle cx="565.8" cy="84.2" r="3.4" fill="#838300" stroke="#2a2a00" stroke-width="0.55"/>
<circle cx="481.8" cy="84" r="3.4" fill="#838300" stroke="#2a2a00" stroke-width="0.55"/>
<circle cx="416.4" cy="93.9" r="3.4" fill="#838300" stroke="#2a2a00" stroke-width="0.55"/>
<circle cx="464.6" cy="92.5" r="3.4" fill="#838300" stroke="#2a2a00" stroke-width="0.55"/>
<circle cx="463.7" cy="95.1" r="3.4" fill="#838300" stroke="#2a2a00" stroke-width="0.55"/>
<circle cx="451.5" cy="105.7" r="3.4" fill="#838300" stroke="#2a2a00" stroke-width="0.55"/>
<circle cx="465.5" cy="108.8" r="3.4" fill="#838300" stroke="#2a2a00" stroke-width="0.55"/>
<circle cx="476.5" cy="117" r="3.4" fill="#838300" stroke="#2a2a00" stroke-width="0.55"/>
<circle cx="484.8" cy="110" r="3.4" fill="#838300" stroke="#2a2a00" stroke-width="0.55"/>
<circle cx="483" cy="90.4" r="3.4" fill="#838300" stroke="#2a2a00" stroke-width="0.55"/>
<circle cx="486.5" cy="91.6" r="3.4" fill="#838300" stroke="#2a2a00" stroke-width="0.55"/>
<circle cx="489.1" cy="96.9" r="3.4" fill="#838300" stroke="#2a2a00" stroke-width="0.55"/>
<circle cx="490.5" cy="89.9" r="3.4" fill="#838300" stroke="#2a2a00" stroke-width="0.55"/>
<circle cx="491.4" cy="96.9" r="3.4" fill="#838300" stroke="#2a2a00" stroke-width="0.55"/>
<circle cx="496.6" cy="100.1" r="3.4" fill="#838300" stroke="#2a2a00" stroke-width="0.55"/>
<circle cx="502.8" cy="86.9" r="3.4" fill="#838300" stroke="#2a2a00" stroke-width="0.55"/>
<circle cx="518.2" cy="88.7" r="3.4" fill="#838300" stroke="#2a2a00" stroke-width="0.55"/>
<circle cx="522.9" cy="95.5" r="3.4" fill="#838300" stroke="#2a2a00" stroke-width="0.55"/>
<circle cx="499.3" cy="107.9" r="3.4" fill="#838300" stroke="#2a2a00" stroke-width="0.55"/>
<circle cx="504.5" cy="112.7" r="3.4" fill="#838300" stroke="#2a2a00" stroke-width="0.55"/>
<circle cx="507.2" cy="114.9" r="3.4" fill="#838300" stroke="#2a2a00" stroke-width="0.55"/>
<circle cx="517.7" cy="103" r="3.4" fill="#838300" stroke="#2a2a00" stroke-width="0.55"/>
<circle cx="536.1" cy="108.3" r="3.4" fill="#838300" stroke="#2a2a00" stroke-width="0.55"/>
<circle cx="543.4" cy="106.2" r="3.4" fill="#838300" stroke="#2a2a00" stroke-width="0.55"/>
<circle cx="512.4" cy="124.9" r="3.4" fill="#838300" stroke="#2a2a00" stroke-width="0.55"/>
<circle cx="553.2" cy="124.9" r="3.4" fill="#838300" stroke="#2a2a00" stroke-width="0.55"/>
<path d="M416.4,113.55 L417.42,116 L420.06,116.21 L418.05,117.94 L418.66,120.51 L416.4,119.13 L414.14,120.51 L414.75,117.94 L412.74,116.21 L415.38,116Z M434.3,110.55 L435.32,113 L437.96,113.21 L435.95,114.94 L436.56,117.51 L434.3,116.13 L432.04,117.51 L432.65,114.94 L430.64,113.21 L433.28,113Z M434.8,113.75 L435.82,116.2 L438.46,116.41 L436.45,118.14 L437.06,120.71 L434.8,119.33 L432.54,120.71 L433.15,118.14 L431.14,116.41 L433.78,116.2Z M441.8,114.55 L442.82,117 L445.46,117.21 L443.45,118.94 L444.06,121.51 L441.8,120.13 L439.54,121.51 L440.15,118.94 L438.14,117.21 L440.78,117Z M441.5,118.45 L442.52,120.9 L445.16,121.11 L443.15,122.84 L443.76,125.41 L441.5,124.03 L439.24,125.41 L439.85,122.84 L437.84,121.11 L440.48,120.9Z M469.9,108.45 L470.92,110.9 L473.56,111.11 L471.55,112.84 L472.16,115.41 L469.9,114.03 L467.64,115.41 L468.25,112.84 L466.24,111.11 L468.88,110.9Z M475.6,104.45 L476.62,106.9 L479.26,107.11 L477.25,108.84 L477.86,111.41 L475.6,110.03 L473.34,111.41 L473.95,108.84 L471.94,107.11 L474.58,106.9Z M412,144.55 L413.02,147 L415.66,147.21 L413.65,148.94 L414.26,151.51 L412,150.13 L409.74,151.51 L410.35,148.94 L408.34,147.21 L410.98,147Z M414.8,144.55 L415.82,147 L418.46,147.21 L416.45,148.94 L417.06,151.51 L414.8,150.13 L412.54,151.51 L413.15,148.94 L411.14,147.21 L413.78,147Z M501,93.55 L502.02,96 L504.66,96.21 L502.65,97.94 L503.26,100.51 L501,99.13 L498.74,100.51 L499.35,97.94 L497.34,96.21 L499.98,96Z M536.4,91.25 L537.42,93.7 L540.06,93.91 L538.05,95.64 L538.66,98.21 L536.4,96.83 L534.14,98.21 L534.75,95.64 L532.74,93.91 L535.38,93.7Z M549.2,87.45 L550.22,89.9 L552.86,90.11 L550.85,91.84 L551.46,94.41 L549.2,93.03 L546.94,94.41 L547.55,91.84 L545.54,90.11 L548.18,89.9Z M512.4,96.25 L513.42,98.7 L516.06,98.91 L514.05,100.64 L514.66,103.21 L512.4,101.83 L510.14,103.21 L510.75,100.64 L508.74,98.91 L511.38,98.7Z M515.9,95.65 L516.92,98.1 L519.56,98.31 L517.55,100.04 L518.16,102.61 L515.9,101.23 L513.64,102.61 L514.25,100.04 L512.24,98.31 L514.88,98.1Z M516.8,98.35 L517.82,100.8 L520.46,101.01 L518.45,102.74 L519.06,105.31 L516.8,103.93 L514.54,105.31 L515.15,102.74 L513.14,101.01 L515.78,100.8Z M510.7,100.05 L511.72,102.5 L514.36,102.71 L512.35,104.44 L512.96,107.01 L510.7,105.63 L508.44,107.01 L509.05,104.44 L507.04,102.71 L509.68,102.5Z M505.9,102.35 L506.92,104.8 L509.56,105.01 L507.55,106.74 L508.16,109.31 L505.9,107.93 L503.64,109.31 L504.25,106.74 L502.24,105.01 L504.88,104.8Z M508.9,104.45 L509.92,106.9 L512.56,107.11 L510.55,108.84 L511.16,111.41 L508.9,110.03 L506.64,111.41 L507.25,108.84 L505.24,107.11 L507.88,106.9Z M504.5,103.55 L505.52,106 L508.16,106.21 L506.15,107.94 L506.76,110.51 L504.5,109.13 L502.24,110.51 L502.85,107.94 L500.84,106.21 L503.48,106Z M507.2,107.05 L508.22,109.5 L510.86,109.71 L508.85,111.44 L509.46,114.01 L507.2,112.63 L504.94,114.01 L505.55,111.44 L503.54,109.71 L506.18,109.5Z M511.5,111.45 L512.52,113.9 L515.16,114.11 L513.15,115.84 L513.76,118.41 L511.5,117.03 L509.24,118.41 L509.85,115.84 L507.84,114.11 L510.48,113.9Z M494.9,107.95 L495.92,110.4 L498.56,110.61 L496.55,112.34 L497.16,114.91 L494.9,113.53 L492.64,114.91 L493.25,112.34 L491.24,110.61 L493.88,110.4Z M497,107.05 L498.02,109.5 L500.66,109.71 L498.65,111.44 L499.26,114.01 L497,112.63 L494.74,114.01 L495.35,111.44 L493.34,109.71 L495.98,109.5Z M492.6,115.85 L493.62,118.3 L496.26,118.51 L494.25,120.24 L494.86,122.81 L492.6,121.43 L490.34,122.81 L490.95,120.24 L488.94,118.51 L491.58,118.3Z M502.8,117.25 L503.82,119.7 L506.46,119.91 L504.45,121.64 L505.06,124.21 L502.8,122.83 L500.54,124.21 L501.15,121.64 L499.14,119.91 L501.78,119.7Z M525.2,100.95 L526.22,103.4 L528.86,103.61 L526.85,105.34 L527.46,107.91 L525.2,106.53 L522.94,107.91 L523.55,105.34 L521.54,103.61 L524.18,103.4Z M526.4,105.35 L527.42,107.8 L530.06,108.01 L528.05,109.74 L528.66,112.31 L526.4,110.93 L524.14,112.31 L524.75,109.74 L522.74,108.01 L525.38,107.8Z M519.4,105.85 L520.42,108.3 L523.06,108.51 L521.05,110.24 L521.66,112.81 L519.4,111.43 L517.14,112.81 L517.75,110.24 L515.74,108.51 L518.38,108.3Z M522.9,109.65 L523.92,112.1 L526.56,112.31 L524.55,114.04 L525.16,116.61 L522.9,115.23 L520.64,116.61 L521.25,114.04 L519.24,112.31 L521.88,112.1Z M529.1,111.45 L530.12,113.9 L532.76,114.11 L530.75,115.84 L531.36,118.41 L529.1,117.03 L526.84,118.41 L527.45,115.84 L525.44,114.11 L528.08,113.9Z M532,110.55 L533.02,113 L535.66,113.21 L533.65,114.94 L534.26,117.51 L532,116.13 L529.74,117.51 L530.35,114.94 L528.34,113.21 L530.98,113Z M533.8,114.95 L534.82,117.4 L537.46,117.61 L535.45,119.34 L536.06,121.91 L533.8,120.53 L531.54,121.91 L532.15,119.34 L530.14,117.61 L532.78,117.4Z M536.9,104.45 L537.92,106.9 L540.56,107.11 L538.55,108.84 L539.16,111.41 L536.9,110.03 L534.64,111.41 L535.25,108.84 L533.24,107.11 L535.88,106.9Z M540.4,102.65 L541.42,105.1 L544.06,105.31 L542.05,107.04 L542.66,109.61 L540.4,108.23 L538.14,109.61 L538.75,107.04 L536.74,105.31 L539.38,105.1Z M536.9,107.95 L537.92,110.4 L540.56,110.61 L538.55,112.34 L539.16,114.91 L536.9,113.53 L534.64,114.91 L535.25,112.34 L533.24,110.61 L535.88,110.4Z M542.5,111.75 L543.52,114.2 L546.16,114.41 L544.15,116.14 L544.76,118.71 L542.5,117.33 L540.24,118.71 L540.85,116.14 L538.84,114.41 L541.48,114.2Z M549.2,107.05 L550.22,109.5 L552.86,109.71 L550.85,111.44 L551.46,114.01 L549.2,112.63 L546.94,114.01 L547.55,111.44 L545.54,109.71 L548.18,109.5Z M553.6,107.95 L554.62,110.4 L557.26,110.61 L555.25,112.34 L555.86,114.91 L553.6,113.53 L551.34,114.91 L551.95,112.34 L549.94,110.61 L552.58,110.4Z M554.5,101.85 L555.52,104.3 L558.16,104.51 L556.15,106.24 L556.76,108.81 L554.5,107.43 L552.24,108.81 L552.85,106.24 L550.84,104.51 L553.48,104.3Z M549.7,113.15 L550.72,115.6 L553.36,115.81 L551.35,117.54 L551.96,120.11 L549.7,118.73 L547.44,120.11 L548.05,117.54 L546.04,115.81 L548.68,115.6Z M562,115.85 L563.02,118.3 L565.66,118.51 L563.65,120.24 L564.26,122.81 L562,121.43 L559.74,122.81 L560.35,120.24 L558.34,118.51 L560.98,118.3Z M557.6,120.75 L558.62,123.2 L561.26,123.41 L559.25,125.14 L559.86,127.71 L557.6,126.33 L555.34,127.71 L555.95,125.14 L553.94,123.41 L556.58,123.2Z" fill="#0000ff" stroke="#000060" stroke-width="0.5" stroke-linejoin="miter"/>
<text x="362.6" y="91.6" font-family='"Liberation Serif", serif' font-size="8.2" font-weight="bold" text-anchor="middle" fill="#000" transform="rotate(-90 362.6 91.6)" dominant-baseline="central">t[2]</text>
<text x="488.1" y="182.8" font-family='"Liberation Serif", serif' font-size="8.6" font-weight="bold" text-anchor="middle" fill="#000" >t[1]</text>
<text x="383.7" y="191.6" font-family='"Liberation Serif", serif' font-size="5.6" font-weight="bold" text-anchor="start" fill="#000" textLength="34.8" lengthAdjust="spacingAndGlyphs">R2X[1] = 0.253</text>
<text x="441" y="191.6" font-family='"Liberation Serif", serif' font-size="5.6" font-weight="bold" text-anchor="start" fill="#000" textLength="38" lengthAdjust="spacingAndGlyphs">R2X[2] = 0.0999</text>
<text x="499.4" y="191.6" font-family='"Liberation Serif", serif' font-size="5.6" font-weight="bold" text-anchor="start" fill="#000" textLength="68.3" lengthAdjust="spacingAndGlyphs">Ellipse: Hotelling&#39;s T2 (95%)</text>
<circle cx="597.6" cy="25.5" r="3.6" fill="#838300" stroke="#2a2a00" stroke-width="0.55"/>
<path d="M597.6,29.8 L598.66,32.34 L601.4,32.56 L599.31,34.36 L599.95,37.04 L597.6,35.6 L595.25,37.04 L595.89,34.36 L593.8,32.56 L596.54,32.34Z" fill="#0000ff" stroke="#00007a" stroke-width="0.45" stroke-linejoin="miter"/>
<text x="603.2" y="27.1" font-family='"Liberation Serif", serif' font-size="6.9" font-weight="bold" text-anchor="start" fill="#000" >TPN</text>
<text x="603" y="35.6" font-family='"Liberation Serif", serif' font-size="6.9" font-weight="bold" text-anchor="start" fill="#000" >GIK</text>
<text x="499.9" y="215" font-family='"Liberation Sans", sans-serif' font-size="11.4" font-weight="bold" text-anchor="middle" fill="#000" >Negative</text>
<ellipse cx="79.7" cy="315.9" rx="45.6" ry="38" fill="none" stroke="#222" stroke-width="0.6"/>
<line x1="17.8" y1="315.9" x2="142" y2="315.9" stroke="#a0a0a0" stroke-width="1.5"/>
<line x1="80" y1="270" x2="80" y2="362.4" stroke="#a0a0a0" stroke-width="1.5"/>
<line x1="17.8" y1="362.4" x2="17.8" y2="272.4" stroke="#999" stroke-width="1.1"/>
<line x1="17.8" y1="362.4" x2="139" y2="362.4" stroke="#333" stroke-width="0.9"/>
<path d="M17.8,270 L16.3,274.8 L19.3,274.8Z" fill="#333"/>
<path d="M141.4,362.4 L136.6,360.9 L136.6,363.9Z" fill="#333"/>
<line x1="18" y1="362.4" x2="18" y2="363.5" stroke="#333" stroke-width="0.6"/>
<text x="18" y="368.7" font-family='"Liberation Serif", serif' font-size="5.4" font-weight="bold" text-anchor="middle" fill="#000" >-40</text>
<line x1="33.5" y1="362.4" x2="33.5" y2="363.5" stroke="#333" stroke-width="0.6"/>
<text x="33.5" y="368.7" font-family='"Liberation Serif", serif' font-size="5.4" font-weight="bold" text-anchor="middle" fill="#000" >-30</text>
<line x1="49" y1="362.4" x2="49" y2="363.5" stroke="#333" stroke-width="0.6"/>
<text x="49" y="368.7" font-family='"Liberation Serif", serif' font-size="5.4" font-weight="bold" text-anchor="middle" fill="#000" >-20</text>
<line x1="64.5" y1="362.4" x2="64.5" y2="363.5" stroke="#333" stroke-width="0.6"/>
<text x="64.5" y="368.7" font-family='"Liberation Serif", serif' font-size="5.4" font-weight="bold" text-anchor="middle" fill="#000" >-10</text>
<line x1="80" y1="362.4" x2="80" y2="363.5" stroke="#333" stroke-width="0.6"/>
<text x="80" y="368.7" font-family='"Liberation Serif", serif' font-size="5.4" font-weight="bold" text-anchor="middle" fill="#000" >0</text>
<line x1="95.5" y1="362.4" x2="95.5" y2="363.5" stroke="#333" stroke-width="0.6"/>
<text x="95.5" y="368.7" font-family='"Liberation Serif", serif' font-size="5.4" font-weight="bold" text-anchor="middle" fill="#000" >10</text>
<line x1="111" y1="362.4" x2="111" y2="363.5" stroke="#333" stroke-width="0.6"/>
<text x="111" y="368.7" font-family='"Liberation Serif", serif' font-size="5.4" font-weight="bold" text-anchor="middle" fill="#000" >20</text>
<line x1="126.5" y1="362.4" x2="126.5" y2="363.5" stroke="#333" stroke-width="0.6"/>
<text x="126.5" y="368.7" font-family='"Liberation Serif", serif' font-size="5.4" font-weight="bold" text-anchor="middle" fill="#000" >30</text>
<line x1="25.75" y1="362.4" x2="25.75" y2="363.1" stroke="#333" stroke-width="0.6"/>
<line x1="41.25" y1="362.4" x2="41.25" y2="363.1" stroke="#333" stroke-width="0.6"/>
<line x1="56.75" y1="362.4" x2="56.75" y2="363.1" stroke="#333" stroke-width="0.6"/>
<line x1="72.25" y1="362.4" x2="72.25" y2="363.1" stroke="#333" stroke-width="0.6"/>
<line x1="87.75" y1="362.4" x2="87.75" y2="363.1" stroke="#333" stroke-width="0.6"/>
<line x1="103.25" y1="362.4" x2="103.25" y2="363.1" stroke="#333" stroke-width="0.6"/>
<line x1="118.75" y1="362.4" x2="118.75" y2="363.1" stroke="#333" stroke-width="0.6"/>
<line x1="134.25" y1="362.4" x2="134.25" y2="363.1" stroke="#333" stroke-width="0.6"/>
<line x1="16.7" y1="362.15" x2="17.8" y2="362.15" stroke="#333" stroke-width="0.6"/>
<text x="15.7" y="363.93" font-family='"Liberation Serif", serif' font-size="5.4" font-weight="bold" text-anchor="end" fill="#000" >-50</text>
<line x1="16.7" y1="352.9" x2="17.8" y2="352.9" stroke="#333" stroke-width="0.6"/>
<text x="15.7" y="354.68" font-family='"Liberation Serif", serif' font-size="5.4" font-weight="bold" text-anchor="end" fill="#000" >-40</text>
<line x1="16.7" y1="343.65" x2="17.8" y2="343.65" stroke="#333" stroke-width="0.6"/>
<text x="15.7" y="345.43" font-family='"Liberation Serif", serif' font-size="5.4" font-weight="bold" text-anchor="end" fill="#000" >-30</text>
<line x1="16.7" y1="334.4" x2="17.8" y2="334.4" stroke="#333" stroke-width="0.6"/>
<text x="15.7" y="336.18" font-family='"Liberation Serif", serif' font-size="5.4" font-weight="bold" text-anchor="end" fill="#000" >-20</text>
<line x1="16.7" y1="325.15" x2="17.8" y2="325.15" stroke="#333" stroke-width="0.6"/>
<text x="15.7" y="326.93" font-family='"Liberation Serif", serif' font-size="5.4" font-weight="bold" text-anchor="end" fill="#000" >-10</text>
<line x1="16.7" y1="315.9" x2="17.8" y2="315.9" stroke="#333" stroke-width="0.6"/>
<text x="15.7" y="317.68" font-family='"Liberation Serif", serif' font-size="5.4" font-weight="bold" text-anchor="end" fill="#000" >0</text>
<line x1="16.7" y1="306.65" x2="17.8" y2="306.65" stroke="#333" stroke-width="0.6"/>
<text x="15.7" y="308.43" font-family='"Liberation Serif", serif' font-size="5.4" font-weight="bold" text-anchor="end" fill="#000" >10</text>
<line x1="16.7" y1="297.4" x2="17.8" y2="297.4" stroke="#333" stroke-width="0.6"/>
<text x="15.7" y="299.18" font-family='"Liberation Serif", serif' font-size="5.4" font-weight="bold" text-anchor="end" fill="#000" >20</text>
<line x1="16.7" y1="288.15" x2="17.8" y2="288.15" stroke="#333" stroke-width="0.6"/>
<text x="15.7" y="289.93" font-family='"Liberation Serif", serif' font-size="5.4" font-weight="bold" text-anchor="end" fill="#000" >30</text>
<line x1="16.7" y1="278.9" x2="17.8" y2="278.9" stroke="#333" stroke-width="0.6"/>
<text x="15.7" y="280.68" font-family='"Liberation Serif", serif' font-size="5.4" font-weight="bold" text-anchor="end" fill="#000" >40</text>
<line x1="17.1" y1="357.52" x2="17.8" y2="357.52" stroke="#333" stroke-width="0.6"/>
<line x1="17.1" y1="348.27" x2="17.8" y2="348.27" stroke="#333" stroke-width="0.6"/>
<line x1="17.1" y1="339.02" x2="17.8" y2="339.02" stroke="#333" stroke-width="0.6"/>
<line x1="17.1" y1="329.77" x2="17.8" y2="329.77" stroke="#333" stroke-width="0.6"/>
<line x1="17.1" y1="320.52" x2="17.8" y2="320.52" stroke="#333" stroke-width="0.6"/>
<line x1="17.1" y1="311.27" x2="17.8" y2="311.27" stroke="#333" stroke-width="0.6"/>
<line x1="17.1" y1="302.02" x2="17.8" y2="302.02" stroke="#333" stroke-width="0.6"/>
<line x1="17.1" y1="292.77" x2="17.8" y2="292.77" stroke="#333" stroke-width="0.6"/>
<line x1="17.1" y1="283.52" x2="17.8" y2="283.52" stroke="#333" stroke-width="0.6"/>
<line x1="17.1" y1="274.27" x2="17.8" y2="274.27" stroke="#333" stroke-width="0.6"/>
<path d="M63.7,286.9 L64.49,288.51 L66.27,288.77 L64.98,290.02 L65.29,291.78 L63.7,290.95 L62.11,291.78 L62.42,290.02 L61.13,288.77 L62.91,288.51Z M64,291.1 L64.79,292.71 L66.57,292.97 L65.28,294.22 L65.59,295.98 L64,295.15 L62.41,295.98 L62.72,294.22 L61.43,292.97 L63.21,292.71Z M64.8,296.2 L65.59,297.81 L67.37,298.07 L66.08,299.32 L66.39,301.08 L64.8,300.25 L63.21,301.08 L63.52,299.32 L62.23,298.07 L64.01,297.81Z M64,300.5 L64.79,302.11 L66.57,302.37 L65.28,303.62 L65.59,305.38 L64,304.55 L62.41,305.38 L62.72,303.62 L61.43,302.37 L63.21,302.11Z M64.5,308.5 L65.29,310.11 L67.07,310.37 L65.78,311.62 L66.09,313.38 L64.5,312.55 L62.91,313.38 L63.22,311.62 L61.93,310.37 L63.71,310.11Z M64,310.5 L64.79,312.11 L66.57,312.37 L65.28,313.62 L65.59,315.38 L64,314.55 L62.41,315.38 L62.72,313.62 L61.43,312.37 L63.21,312.11Z M64.2,312.8 L64.99,314.41 L66.77,314.67 L65.48,315.92 L65.79,317.68 L64.2,316.85 L62.61,317.68 L62.92,315.92 L61.63,314.67 L63.41,314.41Z M64,315.1 L64.79,316.71 L66.57,316.97 L65.28,318.22 L65.59,319.98 L64,319.15 L62.41,319.98 L62.72,318.22 L61.43,316.97 L63.21,316.71Z M64.2,317.1 L64.99,318.71 L66.77,318.97 L65.48,320.22 L65.79,321.98 L64.2,321.15 L62.61,321.98 L62.92,320.22 L61.63,318.97 L63.41,318.71Z M64,319.6 L64.79,321.21 L66.57,321.47 L65.28,322.72 L65.59,324.48 L64,323.65 L62.41,324.48 L62.72,322.72 L61.43,321.47 L63.21,321.21Z M64.2,322.1 L64.99,323.71 L66.77,323.97 L65.48,325.22 L65.79,326.98 L64.2,326.15 L62.61,326.98 L62.92,325.22 L61.63,323.97 L63.41,323.71Z M64,324.6 L64.79,326.21 L66.57,326.47 L65.28,327.72 L65.59,329.48 L64,328.65 L62.41,329.48 L62.72,327.72 L61.43,326.47 L63.21,326.21Z M64.5,327.1 L65.29,328.71 L67.07,328.97 L65.78,330.22 L66.09,331.98 L64.5,331.15 L62.91,331.98 L63.22,330.22 L61.93,328.97 L63.71,328.71Z M63.6,330.8 L64.39,332.41 L66.17,332.67 L64.88,333.92 L65.19,335.68 L63.6,334.85 L62.01,335.68 L62.32,333.92 L61.03,332.67 L62.81,332.41Z M64,332.8 L64.79,334.41 L66.57,334.67 L65.28,335.92 L65.59,337.68 L64,336.85 L62.41,337.68 L62.72,335.92 L61.43,334.67 L63.21,334.41Z M63.5,334.1 L64.29,335.71 L66.07,335.97 L64.78,337.22 L65.09,338.98 L63.5,338.15 L61.91,338.98 L62.22,337.22 L60.93,335.97 L62.71,335.71Z" fill="#0000f0" stroke="#00006a" stroke-width="0.4" stroke-linejoin="miter"/>
<path d="M98.6,284.9 L99.27,286.93 L101.3,287.6 L99.27,288.27 L98.6,290.3 L97.93,288.27 L95.9,287.6 L97.93,286.93Z M98.6,288.3 L99.27,290.33 L101.3,291 L99.27,291.67 L98.6,293.7 L97.93,291.67 L95.9,291 L97.93,290.33Z M98.6,297.2 L99.27,299.23 L101.3,299.9 L99.27,300.57 L98.6,302.6 L97.93,300.57 L95.9,299.9 L97.93,299.23Z M99.3,301 L99.97,303.03 L102,303.7 L99.97,304.37 L99.3,306.4 L98.63,304.37 L96.6,303.7 L98.63,303.03Z M98.4,306.3 L99.07,308.33 L101.1,309 L99.07,309.67 L98.4,311.7 L97.73,309.67 L95.7,309 L97.73,308.33Z M98.9,314.1 L99.57,316.13 L101.6,316.8 L99.57,317.47 L98.9,319.5 L98.23,317.47 L96.2,316.8 L98.23,316.13Z M99.3,317.1 L99.97,319.13 L102,319.8 L99.97,320.47 L99.3,322.5 L98.63,320.47 L96.6,319.8 L98.63,319.13Z M98.9,319.6 L99.57,321.63 L101.6,322.3 L99.57,322.97 L98.9,325 L98.23,322.97 L96.2,322.3 L98.23,321.63Z M98.4,322.6 L99.07,324.63 L101.1,325.3 L99.07,325.97 L98.4,328 L97.73,325.97 L95.7,325.3 L97.73,324.63Z M99.1,325.8 L99.77,327.83 L101.8,328.5 L99.77,329.17 L99.1,331.2 L98.43,329.17 L96.4,328.5 L98.43,327.83Z M98.9,338.3 L99.57,340.33 L101.6,341 L99.57,341.67 L98.9,343.7 L98.23,341.67 L96.2,341 L98.23,340.33Z M99.1,340.8 L99.77,342.83 L101.8,343.5 L99.77,344.17 L99.1,346.2 L98.43,344.17 L96.4,343.5 L98.43,342.83Z" fill="#22bde8" stroke="#1a4a66" stroke-width="0.4" stroke-linejoin="miter"/>
<text x="4.2" y="316" font-family='"Liberation Serif", serif' font-size="5.6" font-weight="bold" text-anchor="middle" fill="#000" textLength="33" lengthAdjust="spacingAndGlyphs" transform="rotate(-90 4.2 316.0)" dominant-baseline="central">1.20814 * to[1]</text>
<text x="80.1" y="375.3" font-family='"Liberation Serif", serif' font-size="5.7" font-weight="bold" text-anchor="middle" fill="#000" >1.00007 * t[1]</text>
<text x="6.1" y="381.5" font-family='"Liberation Serif", serif' font-size="3.8" font-weight="bold" text-anchor="start" fill="#000" textLength="24.6" lengthAdjust="spacingAndGlyphs">R2X[1] = 0.0734</text>
<text x="44.9" y="381.5" font-family='"Liberation Serif", serif' font-size="3.8" font-weight="bold" text-anchor="start" fill="#000" textLength="44.2" lengthAdjust="spacingAndGlyphs">R2X[XSide Comp. 1] = 0.144</text>
<text x="92.6" y="381.5" font-family='"Liberation Serif", serif' font-size="3.8" font-weight="bold" text-anchor="start" fill="#000" textLength="44.3" lengthAdjust="spacingAndGlyphs">Ellipse: Hotelling&#39;s T2 (95%)</text>
<text x="75.8" y="397.2" font-family='"Liberation Sans", sans-serif' font-size="9.8" font-weight="bold" text-anchor="middle" fill="#000" textLength="34.2" lengthAdjust="spacingAndGlyphs">Positive</text>
<ellipse cx="232.8" cy="315.9" rx="49" ry="41.5" fill="none" stroke="#222" stroke-width="0.6"/>
<line x1="170.4" y1="315.9" x2="294.5" y2="315.9" stroke="#a0a0a0" stroke-width="1.5"/>
<line x1="232.5" y1="270" x2="232.5" y2="362.4" stroke="#a0a0a0" stroke-width="1.5"/>
<line x1="170.4" y1="362.4" x2="170.4" y2="272.3" stroke="#333" stroke-width="0.9"/>
<line x1="170.4" y1="362.4" x2="292.1" y2="362.4" stroke="#333" stroke-width="0.9"/>
<path d="M170.4,269.9 L168.9,274.7 L171.9,274.7Z" fill="#333"/>
<path d="M294.5,362.4 L289.7,360.9 L289.7,363.9Z" fill="#333"/>
<line x1="170.75" y1="362.4" x2="170.75" y2="363.5" stroke="#333" stroke-width="0.6"/>
<text x="170.75" y="368.6" font-family='"Liberation Serif", serif' font-size="5.4" font-weight="bold" text-anchor="middle" fill="#000" >-50</text>
<line x1="183.1" y1="362.4" x2="183.1" y2="363.5" stroke="#333" stroke-width="0.6"/>
<text x="183.1" y="368.6" font-family='"Liberation Serif", serif' font-size="5.4" font-weight="bold" text-anchor="middle" fill="#000" >-40</text>
<line x1="195.45" y1="362.4" x2="195.45" y2="363.5" stroke="#333" stroke-width="0.6"/>
<text x="195.45" y="368.6" font-family='"Liberation Serif", serif' font-size="5.4" font-weight="bold" text-anchor="middle" fill="#000" >-30</text>
<line x1="207.8" y1="362.4" x2="207.8" y2="363.5" stroke="#333" stroke-width="0.6"/>
<text x="207.8" y="368.6" font-family='"Liberation Serif", serif' font-size="5.4" font-weight="bold" text-anchor="middle" fill="#000" >-20</text>
<line x1="220.15" y1="362.4" x2="220.15" y2="363.5" stroke="#333" stroke-width="0.6"/>
<text x="220.15" y="368.6" font-family='"Liberation Serif", serif' font-size="5.4" font-weight="bold" text-anchor="middle" fill="#000" >-10</text>
<line x1="232.5" y1="362.4" x2="232.5" y2="363.5" stroke="#333" stroke-width="0.6"/>
<text x="232.5" y="368.6" font-family='"Liberation Serif", serif' font-size="5.4" font-weight="bold" text-anchor="middle" fill="#000" >0</text>
<line x1="244.85" y1="362.4" x2="244.85" y2="363.5" stroke="#333" stroke-width="0.6"/>
<text x="244.85" y="368.6" font-family='"Liberation Serif", serif' font-size="5.4" font-weight="bold" text-anchor="middle" fill="#000" >10</text>
<line x1="257.2" y1="362.4" x2="257.2" y2="363.5" stroke="#333" stroke-width="0.6"/>
<text x="257.2" y="368.6" font-family='"Liberation Serif", serif' font-size="5.4" font-weight="bold" text-anchor="middle" fill="#000" >20</text>
<line x1="269.55" y1="362.4" x2="269.55" y2="363.5" stroke="#333" stroke-width="0.6"/>
<text x="269.55" y="368.6" font-family='"Liberation Serif", serif' font-size="5.4" font-weight="bold" text-anchor="middle" fill="#000" >30</text>
<line x1="281.9" y1="362.4" x2="281.9" y2="363.5" stroke="#333" stroke-width="0.6"/>
<text x="281.9" y="368.6" font-family='"Liberation Serif", serif' font-size="5.4" font-weight="bold" text-anchor="middle" fill="#000" >40</text>
<line x1="176.93" y1="362.4" x2="176.93" y2="363.1" stroke="#333" stroke-width="0.6"/>
<line x1="189.28" y1="362.4" x2="189.28" y2="363.1" stroke="#333" stroke-width="0.6"/>
<line x1="201.62" y1="362.4" x2="201.62" y2="363.1" stroke="#333" stroke-width="0.6"/>
<line x1="213.97" y1="362.4" x2="213.97" y2="363.1" stroke="#333" stroke-width="0.6"/>
<line x1="226.32" y1="362.4" x2="226.32" y2="363.1" stroke="#333" stroke-width="0.6"/>
<line x1="238.68" y1="362.4" x2="238.68" y2="363.1" stroke="#333" stroke-width="0.6"/>
<line x1="251.03" y1="362.4" x2="251.03" y2="363.1" stroke="#333" stroke-width="0.6"/>
<line x1="263.38" y1="362.4" x2="263.38" y2="363.1" stroke="#333" stroke-width="0.6"/>
<line x1="275.73" y1="362.4" x2="275.73" y2="363.1" stroke="#333" stroke-width="0.6"/>
<line x1="288.07" y1="362.4" x2="288.07" y2="363.1" stroke="#333" stroke-width="0.6"/>
<line x1="169.3" y1="362.55" x2="170.4" y2="362.55" stroke="#333" stroke-width="0.6"/>
<text x="169" y="364.33" font-family='"Liberation Serif", serif' font-size="5.4" font-weight="bold" text-anchor="end" fill="#000" >-60</text>
<line x1="169.3" y1="347" x2="170.4" y2="347" stroke="#333" stroke-width="0.6"/>
<text x="169" y="348.78" font-family='"Liberation Serif", serif' font-size="5.4" font-weight="bold" text-anchor="end" fill="#000" >-40</text>
<line x1="169.3" y1="331.45" x2="170.4" y2="331.45" stroke="#333" stroke-width="0.6"/>
<text x="169" y="333.23" font-family='"Liberation Serif", serif' font-size="5.4" font-weight="bold" text-anchor="end" fill="#000" >-20</text>
<line x1="169.3" y1="315.9" x2="170.4" y2="315.9" stroke="#333" stroke-width="0.6"/>
<text x="169" y="317.68" font-family='"Liberation Serif", serif' font-size="5.4" font-weight="bold" text-anchor="end" fill="#000" >0</text>
<line x1="169.3" y1="300.35" x2="170.4" y2="300.35" stroke="#333" stroke-width="0.6"/>
<text x="169" y="302.13" font-family='"Liberation Serif", serif' font-size="5.4" font-weight="bold" text-anchor="end" fill="#000" >20</text>
<line x1="169.3" y1="284.8" x2="170.4" y2="284.8" stroke="#333" stroke-width="0.6"/>
<text x="169" y="286.58" font-family='"Liberation Serif", serif' font-size="5.4" font-weight="bold" text-anchor="end" fill="#000" >40</text>
<line x1="169.7" y1="354.77" x2="170.4" y2="354.77" stroke="#333" stroke-width="0.6"/>
<line x1="169.7" y1="339.22" x2="170.4" y2="339.22" stroke="#333" stroke-width="0.6"/>
<line x1="169.7" y1="323.67" x2="170.4" y2="323.67" stroke="#333" stroke-width="0.6"/>
<line x1="169.7" y1="308.12" x2="170.4" y2="308.12" stroke="#333" stroke-width="0.6"/>
<line x1="169.7" y1="292.57" x2="170.4" y2="292.57" stroke="#333" stroke-width="0.6"/>
<line x1="169.7" y1="277.02" x2="170.4" y2="277.02" stroke="#333" stroke-width="0.6"/>
<path d="M209.1,289.7 L209.89,291.31 L211.67,291.57 L210.38,292.82 L210.69,294.58 L209.1,293.75 L207.51,294.58 L207.82,292.82 L206.53,291.57 L208.31,291.31Z M196.3,298.4 L197.09,300.01 L198.87,300.27 L197.58,301.52 L197.89,303.28 L196.3,302.45 L194.71,303.28 L195.02,301.52 L193.73,300.27 L195.51,300.01Z M212.3,296.7 L213.09,298.31 L214.87,298.57 L213.58,299.82 L213.89,301.58 L212.3,300.75 L210.71,301.58 L211.02,299.82 L209.73,298.57 L211.51,298.31Z M221,295.2 L221.79,296.81 L223.57,297.07 L222.28,298.32 L222.59,300.08 L221,299.25 L219.41,300.08 L219.72,298.32 L218.43,297.07 L220.21,296.81Z M202.6,309.1 L203.39,310.71 L205.17,310.97 L203.88,312.22 L204.19,313.98 L202.6,313.15 L201.01,313.98 L201.32,312.22 L200.03,310.97 L201.81,310.71Z M211.5,309.6 L212.29,311.21 L214.07,311.47 L212.78,312.72 L213.09,314.48 L211.5,313.65 L209.91,314.48 L210.22,312.72 L208.93,311.47 L210.71,311.21Z M215.3,309.1 L216.09,310.71 L217.87,310.97 L216.58,312.22 L216.89,313.98 L215.3,313.15 L213.71,313.98 L214.02,312.22 L212.73,310.97 L214.51,310.71Z M211.1,317.9 L211.89,319.51 L213.67,319.77 L212.38,321.02 L212.69,322.78 L211.1,321.95 L209.51,322.78 L209.82,321.02 L208.53,319.77 L210.31,319.51Z M215.3,315.9 L216.09,317.51 L217.87,317.77 L216.58,319.02 L216.89,320.78 L215.3,319.95 L213.71,320.78 L214.02,319.02 L212.73,317.77 L214.51,317.51Z M217.8,319.1 L218.59,320.71 L220.37,320.97 L219.08,322.22 L219.39,323.98 L217.8,323.15 L216.21,323.98 L216.52,322.22 L215.23,320.97 L217.01,320.71Z M210.6,328.3 L211.39,329.91 L213.17,330.17 L211.88,331.42 L212.19,333.18 L210.6,332.35 L209.01,333.18 L209.32,331.42 L208.03,330.17 L209.81,329.91Z M212.3,327.6 L213.09,329.21 L214.87,329.47 L213.58,330.72 L213.89,332.48 L212.3,331.65 L210.71,332.48 L211.02,330.72 L209.73,329.47 L211.51,329.21Z M219.3,327.1 L220.09,328.71 L221.87,328.97 L220.58,330.22 L220.89,331.98 L219.3,331.15 L217.71,331.98 L218.02,330.22 L216.73,328.97 L218.51,328.71Z M228.5,317.6 L229.29,319.21 L231.07,319.47 L229.78,320.72 L230.09,322.48 L228.5,321.65 L226.91,322.48 L227.22,320.72 L225.93,319.47 L227.71,319.21Z M232.2,308.4 L232.99,310.01 L234.77,310.27 L233.48,311.52 L233.79,313.28 L232.2,312.45 L230.61,313.28 L230.92,311.52 L229.63,310.27 L231.41,310.01Z M234.2,309.1 L234.99,310.71 L236.77,310.97 L235.48,312.22 L235.79,313.98 L234.2,313.15 L232.61,313.98 L232.92,312.22 L231.63,310.97 L233.41,310.71Z M236.7,308.9 L237.49,310.51 L239.27,310.77 L237.98,312.02 L238.29,313.78 L236.7,312.95 L235.11,313.78 L235.42,312.02 L234.13,310.77 L235.91,310.51Z M241.7,320.8 L242.49,322.41 L244.27,322.67 L242.98,323.92 L243.29,325.68 L241.7,324.85 L240.11,325.68 L240.42,323.92 L239.13,322.67 L240.91,322.41Z M219.3,344.5 L220.09,346.11 L221.87,346.37 L220.58,347.62 L220.89,349.38 L219.3,348.55 L217.71,349.38 L218.02,347.62 L216.73,346.37 L218.51,346.11Z" fill="#0000f0" stroke="#00006a" stroke-width="0.4" stroke-linejoin="miter"/>
<path d="M242.5,307.5 L243.17,309.53 L245.2,310.2 L243.17,310.87 L242.5,312.9 L241.83,310.87 L239.8,310.2 L241.83,309.53Z M247.2,306.7 L247.87,308.73 L249.9,309.4 L247.87,310.07 L247.2,312.1 L246.53,310.07 L244.5,309.4 L246.53,308.73Z M246.5,313.5 L247.17,315.53 L249.2,316.2 L247.17,316.87 L246.5,318.9 L245.83,316.87 L243.8,316.2 L245.83,315.53Z M249.5,313.8 L250.17,315.83 L252.2,316.5 L250.17,317.17 L249.5,319.2 L248.83,317.17 L246.8,316.5 L248.83,315.83Z M252.2,315.8 L252.87,317.83 L254.9,318.5 L252.87,319.17 L252.2,321.2 L251.53,319.17 L249.5,318.5 L251.53,317.83Z M248.5,319.7 L249.17,321.73 L251.2,322.4 L249.17,323.07 L248.5,325.1 L247.83,323.07 L245.8,322.4 L247.83,321.73Z M252.2,319.3 L252.87,321.33 L254.9,322 L252.87,322.67 L252.2,324.7 L251.53,322.67 L249.5,322 L251.53,321.33Z M256.3,303.8 L256.97,305.83 L259,306.5 L256.97,307.17 L256.3,309.2 L255.63,307.17 L253.6,306.5 L255.63,305.83Z M256.3,310.8 L256.97,312.83 L259,313.5 L256.97,314.17 L256.3,316.2 L255.63,314.17 L253.6,313.5 L255.63,312.83Z M258.4,325.3 L259.07,327.33 L261.1,328 L259.07,328.67 L258.4,330.7 L257.73,328.67 L255.7,328 L257.73,327.33Z M254.2,327.8 L254.87,329.83 L256.9,330.5 L254.87,331.17 L254.2,333.2 L253.53,331.17 L251.5,330.5 L253.53,329.83Z M251.7,330.3 L252.37,332.33 L254.4,333 L252.37,333.67 L251.7,335.7 L251.03,333.67 L249,333 L251.03,332.33Z M248.4,337 L249.07,339.03 L251.1,339.7 L249.07,340.37 L248.4,342.4 L247.73,340.37 L245.7,339.7 L247.73,339.03Z M243,340.3 L243.67,342.33 L245.7,343 L243.67,343.67 L243,345.7 L242.33,343.67 L240.3,343 L242.33,342.33Z M253.4,268.1 L254.07,270.13 L256.1,270.8 L254.07,271.47 L253.4,273.5 L252.73,271.47 L250.7,270.8 L252.73,270.13Z M257.2,272.8 L257.87,274.83 L259.9,275.5 L257.87,276.17 L257.2,278.2 L256.53,276.17 L254.5,275.5 L256.53,274.83Z" fill="#22bde8" stroke="#1a4a66" stroke-width="0.4" stroke-linejoin="miter"/>
<path d="M297.4,269.5 L298.19,271.11 L299.97,271.37 L298.68,272.62 L298.99,274.38 L297.4,273.55 L295.81,274.38 L296.12,272.62 L294.83,271.37 L296.61,271.11Z" fill="#0000f0" stroke="#00006a" stroke-width="0.4" stroke-linejoin="miter"/>
<path d="M297.4,275.2 L298.07,277.23 L300.1,277.9 L298.07,278.57 L297.4,280.6 L296.73,278.57 L294.7,277.9 L296.73,277.23Z" fill="#22bde8" stroke="#1a4a66" stroke-width="0.4" stroke-linejoin="miter"/>
<text x="301.1" y="273.9" font-family='"Liberation Serif", serif' font-size="5.6" font-weight="bold" text-anchor="start" fill="#000" textLength="23" lengthAdjust="spacingAndGlyphs">TPN-POD4</text>
<text x="301.1" y="279.6" font-family='"Liberation Serif", serif' font-size="5.6" font-weight="bold" text-anchor="start" fill="#000" textLength="22.4" lengthAdjust="spacingAndGlyphs">GIK-POD4</text>
<text x="157" y="316" font-family='"Liberation Serif", serif' font-size="5.6" font-weight="bold" text-anchor="middle" fill="#000" textLength="33" lengthAdjust="spacingAndGlyphs" transform="rotate(-90 157.0 316.0)" dominant-baseline="central">1.26432 * to[1]</text>
<text x="232.6" y="375.2" font-family='"Liberation Serif", serif' font-size="5.6" font-weight="bold" text-anchor="middle" fill="#000" >1.03863 * t[1]</text>
<text x="159.9" y="381.4" font-family='"Liberation Serif", serif' font-size="3.8" font-weight="bold" text-anchor="start" fill="#000" textLength="22.9" lengthAdjust="spacingAndGlyphs">R2X[1] = 0.19</text>
<text x="197" y="381.4" font-family='"Liberation Serif", serif' font-size="3.8" font-weight="bold" text-anchor="start" fill="#000" textLength="43.2" lengthAdjust="spacingAndGlyphs">R2X[XSide Comp. 1] = 0.224</text>
<text x="244.6" y="381.4" font-family='"Liberation Serif", serif' font-size="3.8" font-weight="bold" text-anchor="start" fill="#000" textLength="45.5" lengthAdjust="spacingAndGlyphs">Ellipse: Hotelling&#39;s T2 (95%)</text>
<text x="225.5" y="397.6" font-family='"Liberation Sans", sans-serif' font-size="9.8" font-weight="bold" text-anchor="middle" fill="#000" textLength="38.3" lengthAdjust="spacingAndGlyphs">Negative</text>
<ellipse cx="443" cy="316.2" rx="54.2" ry="43.2" fill="none" stroke="#222" stroke-width="0.6"/>
<line x1="378.5" y1="316.4" x2="506" y2="316.4" stroke="#444" stroke-width="1.1"/>
<line x1="443" y1="268.5" x2="443" y2="364.4" stroke="#a8a8a8" stroke-width="1.6"/>
<line x1="378.5" y1="364.4" x2="378.5" y2="271.8" stroke="#333" stroke-width="0.9"/>
<line x1="378.5" y1="364.4" x2="504.9" y2="364.4" stroke="#333" stroke-width="0.9"/>
<path d="M378.5,269.4 L377,274.2 L380,274.2Z" fill="#333"/>
<path d="M507.3,364.4 L502.5,362.9 L502.5,365.9Z" fill="#333"/>
<line x1="378.8" y1="364.4" x2="378.8" y2="365.5" stroke="#333" stroke-width="0.6"/>
<text x="378.8" y="371.4" font-family='"Liberation Serif", serif' font-size="5.4" font-weight="bold" text-anchor="middle" fill="#000" >-40</text>
<line x1="394.85" y1="364.4" x2="394.85" y2="365.5" stroke="#333" stroke-width="0.6"/>
<text x="394.85" y="371.4" font-family='"Liberation Serif", serif' font-size="5.4" font-weight="bold" text-anchor="middle" fill="#000" >-30</text>
<line x1="410.9" y1="364.4" x2="410.9" y2="365.5" stroke="#333" stroke-width="0.6"/>
<text x="410.9" y="371.4" font-family='"Liberation Serif", serif' font-size="5.4" font-weight="bold" text-anchor="middle" fill="#000" >-20</text>
<line x1="426.95" y1="364.4" x2="426.95" y2="365.5" stroke="#333" stroke-width="0.6"/>
<text x="426.95" y="371.4" font-family='"Liberation Serif", serif' font-size="5.4" font-weight="bold" text-anchor="middle" fill="#000" >-10</text>
<line x1="443" y1="364.4" x2="443" y2="365.5" stroke="#333" stroke-width="0.6"/>
<text x="443" y="371.4" font-family='"Liberation Serif", serif' font-size="5.4" font-weight="bold" text-anchor="middle" fill="#000" >0</text>
<line x1="459.05" y1="364.4" x2="459.05" y2="365.5" stroke="#333" stroke-width="0.6"/>
<text x="459.05" y="371.4" font-family='"Liberation Serif", serif' font-size="5.4" font-weight="bold" text-anchor="middle" fill="#000" >10</text>
<line x1="475.1" y1="364.4" x2="475.1" y2="365.5" stroke="#333" stroke-width="0.6"/>
<text x="475.1" y="371.4" font-family='"Liberation Serif", serif' font-size="5.4" font-weight="bold" text-anchor="middle" fill="#000" >20</text>
<line x1="491.15" y1="364.4" x2="491.15" y2="365.5" stroke="#333" stroke-width="0.6"/>
<text x="491.15" y="371.4" font-family='"Liberation Serif", serif' font-size="5.4" font-weight="bold" text-anchor="middle" fill="#000" >30</text>
<line x1="386.82" y1="364.4" x2="386.82" y2="365.1" stroke="#333" stroke-width="0.6"/>
<line x1="402.88" y1="364.4" x2="402.88" y2="365.1" stroke="#333" stroke-width="0.6"/>
<line x1="418.93" y1="364.4" x2="418.93" y2="365.1" stroke="#333" stroke-width="0.6"/>
<line x1="434.98" y1="364.4" x2="434.98" y2="365.1" stroke="#333" stroke-width="0.6"/>
<line x1="451.02" y1="364.4" x2="451.02" y2="365.1" stroke="#333" stroke-width="0.6"/>
<line x1="467.07" y1="364.4" x2="467.07" y2="365.1" stroke="#333" stroke-width="0.6"/>
<line x1="483.12" y1="364.4" x2="483.12" y2="365.1" stroke="#333" stroke-width="0.6"/>
<line x1="499.18" y1="364.4" x2="499.18" y2="365.1" stroke="#333" stroke-width="0.6"/>
<line x1="377.4" y1="364.8" x2="378.5" y2="364.8" stroke="#333" stroke-width="0.6"/>
<text x="376" y="366.58" font-family='"Liberation Serif", serif' font-size="5.4" font-weight="bold" text-anchor="end" fill="#000" >-40</text>
<line x1="377.4" y1="352.7" x2="378.5" y2="352.7" stroke="#333" stroke-width="0.6"/>
<text x="376" y="354.48" font-family='"Liberation Serif", serif' font-size="5.4" font-weight="bold" text-anchor="end" fill="#000" >-30</text>
<line x1="377.4" y1="340.6" x2="378.5" y2="340.6" stroke="#333" stroke-width="0.6"/>
<text x="376" y="342.38" font-family='"Liberation Serif", serif' font-size="5.4" font-weight="bold" text-anchor="end" fill="#000" >-20</text>
<line x1="377.4" y1="328.5" x2="378.5" y2="328.5" stroke="#333" stroke-width="0.6"/>
<text x="376" y="330.28" font-family='"Liberation Serif", serif' font-size="5.4" font-weight="bold" text-anchor="end" fill="#000" >-10</text>
<line x1="377.4" y1="316.4" x2="378.5" y2="316.4" stroke="#333" stroke-width="0.6"/>
<text x="376" y="318.18" font-family='"Liberation Serif", serif' font-size="5.4" font-weight="bold" text-anchor="end" fill="#000" >0</text>
<line x1="377.4" y1="304.3" x2="378.5" y2="304.3" stroke="#333" stroke-width="0.6"/>
<text x="376" y="306.08" font-family='"Liberation Serif", serif' font-size="5.4" font-weight="bold" text-anchor="end" fill="#000" >10</text>
<line x1="377.4" y1="292.2" x2="378.5" y2="292.2" stroke="#333" stroke-width="0.6"/>
<text x="376" y="293.98" font-family='"Liberation Serif", serif' font-size="5.4" font-weight="bold" text-anchor="end" fill="#000" >20</text>
<line x1="377.4" y1="280.1" x2="378.5" y2="280.1" stroke="#333" stroke-width="0.6"/>
<text x="376" y="281.88" font-family='"Liberation Serif", serif' font-size="5.4" font-weight="bold" text-anchor="end" fill="#000" >30</text>
<line x1="377.8" y1="358.75" x2="378.5" y2="358.75" stroke="#333" stroke-width="0.6"/>
<line x1="377.8" y1="346.65" x2="378.5" y2="346.65" stroke="#333" stroke-width="0.6"/>
<line x1="377.8" y1="334.55" x2="378.5" y2="334.55" stroke="#333" stroke-width="0.6"/>
<line x1="377.8" y1="322.45" x2="378.5" y2="322.45" stroke="#333" stroke-width="0.6"/>
<line x1="377.8" y1="310.35" x2="378.5" y2="310.35" stroke="#333" stroke-width="0.6"/>
<line x1="377.8" y1="298.25" x2="378.5" y2="298.25" stroke="#333" stroke-width="0.6"/>
<line x1="377.8" y1="286.15" x2="378.5" y2="286.15" stroke="#333" stroke-width="0.6"/>
<line x1="377.8" y1="274.05" x2="378.5" y2="274.05" stroke="#333" stroke-width="0.6"/>
<path d="M427.5,272.03 L429.7,275.82 L425.3,275.82Z M423.4,283.43 L425.6,287.22 L421.2,287.22Z M429.3,293.03 L431.5,296.82 L427.1,296.82Z M425.3,294.53 L427.5,298.32 L423.1,298.32Z M430.9,310.93 L433.1,314.72 L428.7,314.72Z M426.5,312.33 L428.7,316.12 L424.3,316.12Z M427.3,315.53 L429.5,319.32 L425.1,319.32Z M423.4,317.33 L425.6,321.12 L421.2,321.12Z M427.9,320.93 L430.1,324.72 L425.7,324.72Z M426.5,322.93 L428.7,326.72 L424.3,326.72Z M425.9,325.93 L428.1,329.72 L423.7,329.72Z M426.5,331.93 L428.7,335.72 L424.3,335.72Z M428.5,332.33 L430.7,336.12 L426.3,336.12Z M422,336.33 L424.2,340.12 L419.8,340.12Z M429.9,340.33 L432.1,344.12 L427.7,344.12Z M425.9,324.93 L428.1,328.72 L423.7,328.72Z" fill="#f00000" stroke="#880000" stroke-width="0.4" stroke-linejoin="round"/>
<circle cx="469.3" cy="291.3" r="2.45" fill="#800080" stroke="#500050" stroke-width="0.3"/>
<circle cx="464.4" cy="296" r="2.45" fill="#800080" stroke="#500050" stroke-width="0.3"/>
<circle cx="467.7" cy="304.5" r="2.45" fill="#800080" stroke="#500050" stroke-width="0.3"/>
<circle cx="471" cy="304.9" r="2.45" fill="#800080" stroke="#500050" stroke-width="0.3"/>
<circle cx="471.8" cy="310.6" r="2.45" fill="#800080" stroke="#500050" stroke-width="0.3"/>
<circle cx="463.1" cy="317.9" r="2.45" fill="#800080" stroke="#500050" stroke-width="0.3"/>
<circle cx="468.9" cy="320.3" r="2.45" fill="#800080" stroke="#500050" stroke-width="0.3"/>
<circle cx="465.9" cy="322.5" r="2.45" fill="#800080" stroke="#500050" stroke-width="0.3"/>
<circle cx="469.5" cy="322.9" r="2.45" fill="#800080" stroke="#500050" stroke-width="0.3"/>
<circle cx="464.9" cy="324.3" r="2.45" fill="#800080" stroke="#500050" stroke-width="0.3"/>
<circle cx="469.9" cy="326.5" r="2.45" fill="#800080" stroke="#500050" stroke-width="0.3"/>
<circle cx="467.5" cy="331.9" r="2.45" fill="#800080" stroke="#500050" stroke-width="0.3"/>
<circle cx="471.3" cy="338.3" r="2.45" fill="#800080" stroke="#500050" stroke-width="0.3"/>
<text x="364.3" y="315.8" font-family='"Liberation Serif", serif' font-size="5.6" font-weight="bold" text-anchor="middle" fill="#000" textLength="33" lengthAdjust="spacingAndGlyphs" transform="rotate(-90 364.3 315.8)" dominant-baseline="central">1.20053 * to[1]</text>
<text x="443.2" y="377.6" font-family='"Liberation Serif", serif' font-size="5.6" font-weight="bold" text-anchor="middle" fill="#000" >1.00191 * t[1]</text>
<text x="366.8" y="383.8" font-family='"Liberation Serif", serif' font-size="3.8" font-weight="bold" text-anchor="start" fill="#000" textLength="25.6" lengthAdjust="spacingAndGlyphs">R2X[1] = 0.0933</text>
<text x="406.2" y="383.8" font-family='"Liberation Serif", serif' font-size="3.8" font-weight="bold" text-anchor="start" fill="#000" textLength="45.8" lengthAdjust="spacingAndGlyphs">R2X[XSide Comp. 1] = 0.107</text>
<text x="456.4" y="383.8" font-family='"Liberation Serif", serif' font-size="3.8" font-weight="bold" text-anchor="start" fill="#000" textLength="45.9" lengthAdjust="spacingAndGlyphs">Ellipse: Hotelling&#39;s T2 (95%)</text>
<text x="437.4" y="397.6" font-family='"Liberation Sans", sans-serif' font-size="9.8" font-weight="bold" text-anchor="middle" fill="#000" textLength="35.3" lengthAdjust="spacingAndGlyphs">Positive</text>
<ellipse cx="590.2" cy="316.6" rx="51.2" ry="40.7" fill="none" stroke="#222" stroke-width="0.6"/>
<line x1="525.6" y1="316.7" x2="654.7" y2="316.7" stroke="#8a8a8a" stroke-width="1.5"/>
<line x1="590.5" y1="268.5" x2="590.5" y2="365.2" stroke="#555" stroke-width="1.3"/>
<line x1="525.6" y1="365.2" x2="525.6" y2="272.4" stroke="#333" stroke-width="0.9"/>
<line x1="525.6" y1="365.2" x2="652" y2="365.2" stroke="#888" stroke-width="1.2"/>
<path d="M525.6,270 L524.1,274.8 L527.1,274.8Z" fill="#333"/>
<path d="M654.4,365.2 L649.6,363.7 L649.6,366.7Z" fill="#333"/>
<line x1="526.5" y1="365.2" x2="526.5" y2="366.3" stroke="#333" stroke-width="0.6"/>
<text x="526.5" y="371.6" font-family='"Liberation Serif", serif' font-size="5.4" font-weight="bold" text-anchor="middle" fill="#000" >-50</text>
<line x1="539.3" y1="365.2" x2="539.3" y2="366.3" stroke="#333" stroke-width="0.6"/>
<text x="539.3" y="371.6" font-family='"Liberation Serif", serif' font-size="5.4" font-weight="bold" text-anchor="middle" fill="#000" >-40</text>
<line x1="552.1" y1="365.2" x2="552.1" y2="366.3" stroke="#333" stroke-width="0.6"/>
<text x="552.1" y="371.6" font-family='"Liberation Serif", serif' font-size="5.4" font-weight="bold" text-anchor="middle" fill="#000" >-30</text>
<line x1="564.9" y1="365.2" x2="564.9" y2="366.3" stroke="#333" stroke-width="0.6"/>
<text x="564.9" y="371.6" font-family='"Liberation Serif", serif' font-size="5.4" font-weight="bold" text-anchor="middle" fill="#000" >-20</text>
<line x1="577.7" y1="365.2" x2="577.7" y2="366.3" stroke="#333" stroke-width="0.6"/>
<text x="577.7" y="371.6" font-family='"Liberation Serif", serif' font-size="5.4" font-weight="bold" text-anchor="middle" fill="#000" >-10</text>
<line x1="590.5" y1="365.2" x2="590.5" y2="366.3" stroke="#333" stroke-width="0.6"/>
<text x="590.5" y="371.6" font-family='"Liberation Serif", serif' font-size="5.4" font-weight="bold" text-anchor="middle" fill="#000" >0</text>
<line x1="603.3" y1="365.2" x2="603.3" y2="366.3" stroke="#333" stroke-width="0.6"/>
<text x="603.3" y="371.6" font-family='"Liberation Serif", serif' font-size="5.4" font-weight="bold" text-anchor="middle" fill="#000" >10</text>
<line x1="616.1" y1="365.2" x2="616.1" y2="366.3" stroke="#333" stroke-width="0.6"/>
<text x="616.1" y="371.6" font-family='"Liberation Serif", serif' font-size="5.4" font-weight="bold" text-anchor="middle" fill="#000" >20</text>
<line x1="628.9" y1="365.2" x2="628.9" y2="366.3" stroke="#333" stroke-width="0.6"/>
<text x="628.9" y="371.6" font-family='"Liberation Serif", serif' font-size="5.4" font-weight="bold" text-anchor="middle" fill="#000" >30</text>
<line x1="641.7" y1="365.2" x2="641.7" y2="366.3" stroke="#333" stroke-width="0.6"/>
<text x="641.7" y="371.6" font-family='"Liberation Serif", serif' font-size="5.4" font-weight="bold" text-anchor="middle" fill="#000" >40</text>
<line x1="532.9" y1="365.2" x2="532.9" y2="365.9" stroke="#333" stroke-width="0.6"/>
<line x1="545.7" y1="365.2" x2="545.7" y2="365.9" stroke="#333" stroke-width="0.6"/>
<line x1="558.5" y1="365.2" x2="558.5" y2="365.9" stroke="#333" stroke-width="0.6"/>
<line x1="571.3" y1="365.2" x2="571.3" y2="365.9" stroke="#333" stroke-width="0.6"/>
<line x1="584.1" y1="365.2" x2="584.1" y2="365.9" stroke="#333" stroke-width="0.6"/>
<line x1="596.9" y1="365.2" x2="596.9" y2="365.9" stroke="#333" stroke-width="0.6"/>
<line x1="609.7" y1="365.2" x2="609.7" y2="365.9" stroke="#333" stroke-width="0.6"/>
<line x1="622.5" y1="365.2" x2="622.5" y2="365.9" stroke="#333" stroke-width="0.6"/>
<line x1="635.3" y1="365.2" x2="635.3" y2="365.9" stroke="#333" stroke-width="0.6"/>
<line x1="648.1" y1="365.2" x2="648.1" y2="365.9" stroke="#333" stroke-width="0.6"/>
<line x1="524.5" y1="365.3" x2="525.6" y2="365.3" stroke="#333" stroke-width="0.6"/>
<text x="523.8" y="367.08" font-family='"Liberation Serif", serif' font-size="5.4" font-weight="bold" text-anchor="end" fill="#000" >-60</text>
<line x1="524.5" y1="349.1" x2="525.6" y2="349.1" stroke="#333" stroke-width="0.6"/>
<text x="523.8" y="350.88" font-family='"Liberation Serif", serif' font-size="5.4" font-weight="bold" text-anchor="end" fill="#000" >-40</text>
<line x1="524.5" y1="332.9" x2="525.6" y2="332.9" stroke="#333" stroke-width="0.6"/>
<text x="523.8" y="334.68" font-family='"Liberation Serif", serif' font-size="5.4" font-weight="bold" text-anchor="end" fill="#000" >-20</text>
<line x1="524.5" y1="316.7" x2="525.6" y2="316.7" stroke="#333" stroke-width="0.6"/>
<text x="523.8" y="318.48" font-family='"Liberation Serif", serif' font-size="5.4" font-weight="bold" text-anchor="end" fill="#000" >0</text>
<line x1="524.5" y1="300.5" x2="525.6" y2="300.5" stroke="#333" stroke-width="0.6"/>
<text x="523.8" y="302.28" font-family='"Liberation Serif", serif' font-size="5.4" font-weight="bold" text-anchor="end" fill="#000" >20</text>
<line x1="524.5" y1="284.3" x2="525.6" y2="284.3" stroke="#333" stroke-width="0.6"/>
<text x="523.8" y="286.08" font-family='"Liberation Serif", serif' font-size="5.4" font-weight="bold" text-anchor="end" fill="#000" >40</text>
<line x1="524.9" y1="357.2" x2="525.6" y2="357.2" stroke="#333" stroke-width="0.6"/>
<line x1="524.9" y1="341" x2="525.6" y2="341" stroke="#333" stroke-width="0.6"/>
<line x1="524.9" y1="324.8" x2="525.6" y2="324.8" stroke="#333" stroke-width="0.6"/>
<line x1="524.9" y1="308.6" x2="525.6" y2="308.6" stroke="#333" stroke-width="0.6"/>
<line x1="524.9" y1="292.4" x2="525.6" y2="292.4" stroke="#333" stroke-width="0.6"/>
<line x1="524.9" y1="276.2" x2="525.6" y2="276.2" stroke="#333" stroke-width="0.6"/>
<path d="M584.3,283.63 L586.5,287.42 L582.1,287.42Z M580.5,289.33 L582.7,293.12 L578.3,293.12Z M564.9,292.93 L567.1,296.72 L562.7,296.72Z M571.9,295.53 L574.1,299.32 L569.7,299.32Z M574.3,298.93 L576.5,302.72 L572.1,302.72Z M581.9,299.93 L584.1,303.72 L579.7,303.72Z M565.5,307.33 L567.7,311.12 L563.3,311.12Z M571.5,306.33 L573.7,310.12 L569.3,310.12Z M571.3,310.33 L573.5,314.12 L569.1,314.12Z M575.9,314.53 L578.1,318.32 L573.7,318.32Z M564.3,315.53 L566.5,319.32 L562.1,319.32Z M566.9,319.93 L569.1,323.72 L564.7,323.72Z M573.5,324.53 L575.7,328.32 L571.3,328.32Z M564.9,325.33 L567.1,329.12 L562.7,329.12Z M571.1,328.53 L573.3,332.32 L568.9,332.32Z M567.9,335.93 L570.1,339.72 L565.7,339.72Z M600.8,303.93 L603,307.72 L598.6,307.72Z M594.3,321.53 L596.5,325.32 L592.1,325.32Z M597.4,328.53 L599.6,332.32 L595.2,332.32Z M584.1,345.73 L586.3,349.52 L581.9,349.52Z M592,351.33 L594.2,355.12 L589.8,355.12Z" fill="#f00000" stroke="#880000" stroke-width="0.4" stroke-linejoin="round"/>
<circle cx="616.7" cy="300.1" r="2.45" fill="#800080" stroke="#500050" stroke-width="0.3"/>
<circle cx="614.1" cy="305.1" r="2.45" fill="#800080" stroke="#500050" stroke-width="0.3"/>
<circle cx="620" cy="309.4" r="2.45" fill="#800080" stroke="#500050" stroke-width="0.3"/>
<circle cx="615.4" cy="310.7" r="2.45" fill="#800080" stroke="#500050" stroke-width="0.3"/>
<circle cx="611.4" cy="311.8" r="2.45" fill="#800080" stroke="#500050" stroke-width="0.3"/>
<circle cx="612.4" cy="314.4" r="2.45" fill="#800080" stroke="#500050" stroke-width="0.3"/>
<circle cx="607.8" cy="321.2" r="2.45" fill="#800080" stroke="#500050" stroke-width="0.3"/>
<circle cx="610" cy="325.8" r="2.45" fill="#800080" stroke="#500050" stroke-width="0.3"/>
<circle cx="607.3" cy="327.8" r="2.45" fill="#800080" stroke="#500050" stroke-width="0.3"/>
<circle cx="601.8" cy="340.8" r="2.45" fill="#800080" stroke="#500050" stroke-width="0.3"/>
<path d="M657.4,268.83 L659.6,272.62 L655.2,272.62Z" fill="#f00000" stroke="#880000" stroke-width="0.4" stroke-linejoin="round"/>
<circle cx="657.4" cy="277.3" r="2.45" fill="#800080" stroke="#500050" stroke-width="0.3"/>
<text x="661.2" y="272.5" font-family='"Liberation Serif", serif' font-size="5.6" font-weight="bold" text-anchor="start" fill="#000" textLength="23" lengthAdjust="spacingAndGlyphs">TPN-POD7</text>
<text x="661.2" y="279" font-family='"Liberation Serif", serif' font-size="5.6" font-weight="bold" text-anchor="start" fill="#000" textLength="22.4" lengthAdjust="spacingAndGlyphs">GIK-POD7</text>
<text x="512.5" y="316" font-family='"Liberation Serif", serif' font-size="5.6" font-weight="bold" text-anchor="middle" fill="#000" textLength="33" lengthAdjust="spacingAndGlyphs" transform="rotate(-90 512.5 316.0)" dominant-baseline="central">1.23505 * to[1]</text>
<text x="590.7" y="378.3" font-family='"Liberation Serif", serif' font-size="5.6" font-weight="bold" text-anchor="middle" fill="#000" >1.0409 * t[1]</text>
<text x="514.6" y="385" font-family='"Liberation Serif", serif' font-size="3.8" font-weight="bold" text-anchor="start" fill="#000" textLength="23.5" lengthAdjust="spacingAndGlyphs">R2X[1] = 0.117</text>
<text x="552.9" y="385" font-family='"Liberation Serif", serif' font-size="3.8" font-weight="bold" text-anchor="start" fill="#000" textLength="46.5" lengthAdjust="spacingAndGlyphs">R2X[XSide Comp. 1] = 0.159</text>
<text x="602.5" y="385" font-family='"Liberation Serif", serif' font-size="3.8" font-weight="bold" text-anchor="start" fill="#000" textLength="46.7" lengthAdjust="spacingAndGlyphs">Ellipse: Hotelling&#39;s T2 (95%)</text>
<text x="587.3" y="398.6" font-family='"Liberation Sans", sans-serif' font-size="9.8" font-weight="bold" text-anchor="middle" fill="#000" textLength="39.6" lengthAdjust="spacingAndGlyphs">Negative</text>
</svg></body></html>
